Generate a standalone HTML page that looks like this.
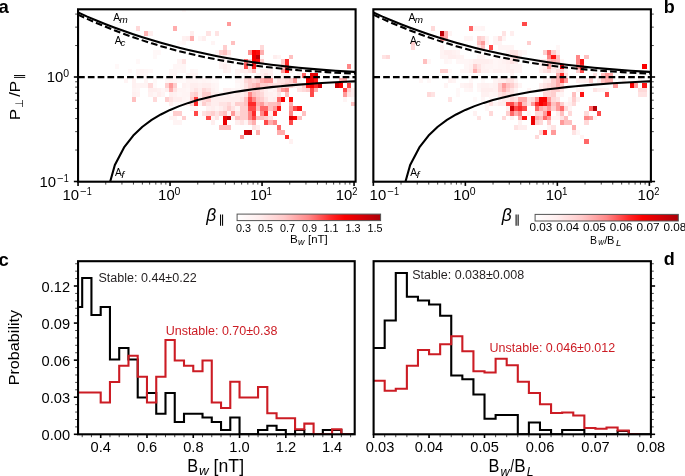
<!DOCTYPE html>
<html><head><meta charset="utf-8"><style>
html,body{margin:0;padding:0;background:#fff;}
svg{display:block;font-family:"Liberation Sans", sans-serif;-webkit-font-smoothing:antialiased;will-change:transform;}
</style></head><body>
<svg width="685" height="476" viewBox="0 0 685 476">
<rect width="685" height="476" fill="#fff"/>
<g shape-rendering="crispEdges">
<rect x="136.01" y="26.40" width="4.14" height="4.70" fill="#ffd9d9"/>
<rect x="144.29" y="31.10" width="4.14" height="4.70" fill="#ffb5b5"/>
<rect x="148.43" y="31.10" width="4.14" height="4.70" fill="#ffeeee"/>
<rect x="152.57" y="54.60" width="4.14" height="4.70" fill="#fff8f8"/>
<rect x="156.71" y="49.90" width="4.14" height="4.70" fill="#fff8f8"/>
<rect x="152.57" y="49.90" width="4.14" height="4.70" fill="#fff8f8"/>
<rect x="115.31" y="64.00" width="4.14" height="4.70" fill="#fff8f8"/>
<rect x="136.01" y="73.40" width="4.14" height="4.70" fill="#fff6f6"/>
<rect x="140.15" y="73.40" width="4.14" height="4.70" fill="#fff6f6"/>
<rect x="144.29" y="73.40" width="4.14" height="4.70" fill="#fff8f8"/>
<rect x="148.43" y="68.70" width="4.14" height="4.70" fill="#fff8f8"/>
<rect x="169.13" y="73.40" width="4.14" height="4.70" fill="#fff6f6"/>
<rect x="169.13" y="68.70" width="4.14" height="4.70" fill="#fff6f6"/>
<rect x="173.27" y="26.40" width="4.14" height="4.70" fill="#ffadad"/>
<rect x="181.55" y="9.30" width="4.14" height="3.00" fill="#fff8f8"/>
<rect x="189.83" y="31.10" width="4.14" height="4.70" fill="#ffeeee"/>
<rect x="189.83" y="35.80" width="4.14" height="4.70" fill="#ffadad"/>
<rect x="185.69" y="35.80" width="4.14" height="4.70" fill="#ffeeee"/>
<rect x="181.55" y="35.80" width="4.14" height="4.70" fill="#fff1f1"/>
<rect x="206.39" y="31.10" width="4.14" height="4.70" fill="#ffe3e3"/>
<rect x="214.67" y="31.10" width="4.14" height="4.70" fill="#ffe3e3"/>
<rect x="202.25" y="35.80" width="4.14" height="4.70" fill="#ffeeee"/>
<rect x="198.11" y="35.80" width="4.14" height="4.70" fill="#fff6f6"/>
<rect x="227.09" y="21.70" width="4.14" height="4.70" fill="#ff9a9a"/>
<rect x="231.23" y="40.50" width="4.14" height="4.70" fill="#ffc0c0"/>
<rect x="210.53" y="40.50" width="4.14" height="4.70" fill="#fff4f4"/>
<rect x="222.95" y="45.20" width="4.14" height="4.70" fill="#ffcece"/>
<rect x="218.81" y="49.90" width="4.14" height="4.70" fill="#ffcece"/>
<rect x="222.95" y="49.90" width="4.14" height="4.70" fill="#ffc0c0"/>
<rect x="227.09" y="49.90" width="4.14" height="4.70" fill="#ffe3e3"/>
<rect x="222.95" y="54.60" width="4.14" height="4.70" fill="#ffeeee"/>
<rect x="260.21" y="45.20" width="4.14" height="4.70" fill="#ffd9d9"/>
<rect x="247.79" y="49.90" width="4.14" height="4.70" fill="#ff8f8f"/>
<rect x="251.93" y="49.90" width="4.14" height="4.70" fill="#fa0000"/>
<rect x="256.07" y="49.90" width="4.14" height="4.70" fill="#fc0c0c"/>
<rect x="260.21" y="49.90" width="4.14" height="4.70" fill="#ffadad"/>
<rect x="251.93" y="54.60" width="4.14" height="4.70" fill="#f10001"/>
<rect x="256.07" y="54.60" width="4.14" height="4.70" fill="#bd0007"/>
<rect x="260.21" y="54.60" width="4.14" height="4.70" fill="#fff9f9"/>
<rect x="251.93" y="59.30" width="4.14" height="4.70" fill="#fa0000"/>
<rect x="256.07" y="59.30" width="4.14" height="4.70" fill="#fc0c0c"/>
<rect x="243.65" y="59.30" width="4.14" height="4.70" fill="#ff6868"/>
<rect x="243.65" y="64.00" width="4.14" height="4.70" fill="#ff4949"/>
<rect x="251.93" y="64.00" width="4.14" height="4.70" fill="#fd1313"/>
<rect x="247.79" y="64.00" width="4.14" height="4.70" fill="#ffe3e3"/>
<rect x="247.79" y="59.30" width="4.14" height="4.70" fill="#ffd9d9"/>
<rect x="251.93" y="68.70" width="4.14" height="4.70" fill="#ffc0c0"/>
<rect x="177.41" y="64.00" width="4.14" height="4.70" fill="#fff6f6"/>
<rect x="181.55" y="64.00" width="4.14" height="4.70" fill="#fff6f6"/>
<rect x="177.41" y="59.30" width="4.14" height="4.70" fill="#fff4f4"/>
<rect x="181.55" y="59.30" width="4.14" height="4.70" fill="#ffe3e3"/>
<rect x="173.27" y="73.40" width="4.14" height="4.70" fill="#fff4f4"/>
<rect x="173.27" y="68.70" width="4.14" height="4.70" fill="#fff6f6"/>
<rect x="272.63" y="54.60" width="4.14" height="4.70" fill="#ffeeee"/>
<rect x="276.77" y="54.60" width="4.14" height="4.70" fill="#fff4f4"/>
<rect x="289.19" y="54.60" width="4.14" height="4.70" fill="#ffc0c0"/>
<rect x="280.91" y="59.30" width="4.14" height="4.70" fill="#ffcece"/>
<rect x="285.05" y="59.30" width="4.14" height="4.70" fill="#ff2929"/>
<rect x="285.05" y="64.00" width="4.14" height="4.70" fill="#ff2929"/>
<rect x="280.91" y="64.00" width="4.14" height="4.70" fill="#ffcece"/>
<rect x="280.91" y="68.70" width="4.14" height="4.70" fill="#ff9a9a"/>
<rect x="285.05" y="68.70" width="4.14" height="4.70" fill="#fa0000"/>
<rect x="347.15" y="64.00" width="4.14" height="4.70" fill="#ff8787"/>
<rect x="301.61" y="73.40" width="4.14" height="4.70" fill="#ff6868"/>
<rect x="309.89" y="73.40" width="4.14" height="4.70" fill="#e60003"/>
<rect x="314.03" y="73.40" width="4.14" height="4.70" fill="#e60003"/>
<rect x="264.35" y="73.40" width="4.14" height="4.70" fill="#ffe3e3"/>
<rect x="268.49" y="73.40" width="4.14" height="4.70" fill="#ffeeee"/>
<rect x="264.35" y="68.70" width="4.14" height="4.70" fill="#ffeeee"/>
<rect x="268.49" y="68.70" width="4.14" height="4.70" fill="#fff1f1"/>
<rect x="123.59" y="78.10" width="4.14" height="4.70" fill="#fff4f4"/>
<rect x="131.87" y="78.10" width="4.14" height="4.70" fill="#fff1f1"/>
<rect x="131.87" y="82.80" width="4.14" height="4.70" fill="#fff1f1"/>
<rect x="131.87" y="87.50" width="4.14" height="4.70" fill="#fff4f4"/>
<rect x="131.87" y="92.20" width="4.14" height="4.70" fill="#fff1f1"/>
<rect x="131.87" y="96.90" width="4.14" height="4.70" fill="#ffc0c0"/>
<rect x="136.01" y="82.80" width="4.14" height="4.70" fill="#fff4f4"/>
<rect x="136.01" y="87.50" width="4.14" height="4.70" fill="#fff6f6"/>
<rect x="140.15" y="82.80" width="4.14" height="4.70" fill="#fff4f4"/>
<rect x="144.29" y="78.10" width="4.14" height="4.70" fill="#fff4f4"/>
<rect x="144.29" y="82.80" width="4.14" height="4.70" fill="#fff4f4"/>
<rect x="148.43" y="82.80" width="4.14" height="4.70" fill="#ffd9d9"/>
<rect x="148.43" y="87.50" width="4.14" height="4.70" fill="#ffeeee"/>
<rect x="148.43" y="92.20" width="4.14" height="4.70" fill="#fff1f1"/>
<rect x="152.57" y="87.50" width="4.14" height="4.70" fill="#ffeeee"/>
<rect x="152.57" y="96.90" width="4.14" height="4.70" fill="#ffd9d9"/>
<rect x="152.57" y="92.20" width="4.14" height="4.70" fill="#fff6f6"/>
<rect x="156.71" y="87.50" width="4.14" height="4.70" fill="#fff1f1"/>
<rect x="156.71" y="92.20" width="4.14" height="4.70" fill="#ffeeee"/>
<rect x="160.85" y="87.50" width="4.14" height="4.70" fill="#fff6f6"/>
<rect x="164.99" y="82.80" width="4.14" height="4.70" fill="#ffcece"/>
<rect x="164.99" y="87.50" width="4.14" height="4.70" fill="#ffeeee"/>
<rect x="164.99" y="96.90" width="4.14" height="4.70" fill="#ffcece"/>
<rect x="169.13" y="82.80" width="4.14" height="4.70" fill="#ff9a9a"/>
<rect x="169.13" y="87.50" width="4.14" height="4.70" fill="#ffadad"/>
<rect x="169.13" y="78.10" width="4.14" height="4.70" fill="#fff4f4"/>
<rect x="169.13" y="92.20" width="4.14" height="4.70" fill="#ffeeee"/>
<rect x="169.13" y="96.90" width="4.14" height="4.70" fill="#ffe3e3"/>
<rect x="169.13" y="101.60" width="4.14" height="4.70" fill="#ffeeee"/>
<rect x="173.27" y="115.70" width="4.14" height="4.70" fill="#fff4f4"/>
<rect x="181.55" y="115.70" width="4.14" height="4.70" fill="#ffcece"/>
<rect x="206.39" y="115.70" width="4.14" height="4.70" fill="#ff4949"/>
<rect x="214.67" y="115.70" width="4.14" height="4.70" fill="#ffe3e3"/>
<rect x="222.95" y="115.70" width="4.14" height="4.70" fill="#eb0002"/>
<rect x="227.09" y="115.70" width="4.14" height="4.70" fill="#bd0007"/>
<rect x="235.37" y="115.70" width="4.14" height="4.70" fill="#ffc0c0"/>
<rect x="239.51" y="115.70" width="4.14" height="4.70" fill="#ffcece"/>
<rect x="243.65" y="115.70" width="4.14" height="4.70" fill="#ffcece"/>
<rect x="247.79" y="115.70" width="4.14" height="4.70" fill="#ff8787"/>
<rect x="251.93" y="115.70" width="4.14" height="4.70" fill="#ff4949"/>
<rect x="256.07" y="115.70" width="4.14" height="4.70" fill="#ffc0c0"/>
<rect x="260.21" y="115.70" width="4.14" height="4.70" fill="#ffc0c0"/>
<rect x="264.35" y="115.70" width="4.14" height="4.70" fill="#ffcece"/>
<rect x="173.27" y="120.40" width="4.14" height="4.70" fill="#fff4f4"/>
<rect x="177.41" y="120.40" width="4.14" height="4.70" fill="#fff4f4"/>
<rect x="210.53" y="120.40" width="4.14" height="4.70" fill="#ffeeee"/>
<rect x="222.95" y="120.40" width="4.14" height="4.70" fill="#eb0002"/>
<rect x="235.37" y="120.40" width="4.14" height="4.70" fill="#ffeeee"/>
<rect x="239.51" y="120.40" width="4.14" height="4.70" fill="#ffe3e3"/>
<rect x="243.65" y="120.40" width="4.14" height="4.70" fill="#fff4f4"/>
<rect x="251.93" y="120.40" width="4.14" height="4.70" fill="#ffadad"/>
<rect x="264.35" y="120.40" width="4.14" height="4.70" fill="#ff4949"/>
<rect x="218.81" y="125.10" width="4.14" height="4.70" fill="#ffc0c0"/>
<rect x="222.95" y="125.10" width="4.14" height="4.70" fill="#ffc0c0"/>
<rect x="227.09" y="125.10" width="4.14" height="4.70" fill="#ffc0c0"/>
<rect x="251.93" y="125.10" width="4.14" height="4.70" fill="#ffe3e3"/>
<rect x="256.07" y="125.10" width="4.14" height="4.70" fill="#ffeeee"/>
<rect x="243.65" y="129.80" width="4.14" height="4.70" fill="#d40006"/>
<rect x="247.79" y="129.80" width="4.14" height="4.70" fill="#c70007"/>
<rect x="256.07" y="129.80" width="4.14" height="4.70" fill="#ffadad"/>
<rect x="239.51" y="134.50" width="4.14" height="4.70" fill="#ff9a9a"/>
<rect x="276.77" y="96.90" width="4.14" height="4.70" fill="#ff6868"/>
<rect x="280.91" y="96.90" width="4.14" height="4.70" fill="#fa0000"/>
<rect x="289.19" y="96.90" width="4.14" height="4.70" fill="#fc0c0c"/>
<rect x="272.63" y="96.90" width="4.14" height="4.70" fill="#ffeeee"/>
<rect x="268.49" y="96.90" width="4.14" height="4.70" fill="#fff1f1"/>
<rect x="276.77" y="92.20" width="4.14" height="4.70" fill="#ffe3e3"/>
<rect x="285.05" y="92.20" width="4.14" height="4.70" fill="#ffc0c0"/>
<rect x="309.89" y="92.20" width="4.14" height="4.70" fill="#ff4949"/>
<rect x="268.49" y="101.60" width="4.14" height="4.70" fill="#ffc0c0"/>
<rect x="272.63" y="101.60" width="4.14" height="4.70" fill="#ffc0c0"/>
<rect x="276.77" y="101.60" width="4.14" height="4.70" fill="#ffadad"/>
<rect x="289.19" y="101.60" width="4.14" height="4.70" fill="#ffadad"/>
<rect x="264.35" y="106.30" width="4.14" height="4.70" fill="#ff6868"/>
<rect x="268.49" y="106.30" width="4.14" height="4.70" fill="#ffc0c0"/>
<rect x="272.63" y="106.30" width="4.14" height="4.70" fill="#ff9a9a"/>
<rect x="276.77" y="106.30" width="4.14" height="4.70" fill="#fd1313"/>
<rect x="289.19" y="106.30" width="4.14" height="4.70" fill="#ff9a9a"/>
<rect x="293.33" y="106.30" width="4.14" height="4.70" fill="#ff4949"/>
<rect x="297.47" y="106.30" width="4.14" height="4.70" fill="#fd1313"/>
<rect x="268.49" y="111.00" width="4.14" height="4.70" fill="#ffeeee"/>
<rect x="272.63" y="111.00" width="4.14" height="4.70" fill="#ff2929"/>
<rect x="289.19" y="111.00" width="4.14" height="4.70" fill="#ff8787"/>
<rect x="301.61" y="111.00" width="4.14" height="4.70" fill="#ffc0c0"/>
<rect x="268.49" y="115.70" width="4.14" height="4.70" fill="#ffe3e3"/>
<rect x="289.19" y="115.70" width="4.14" height="4.70" fill="#dd0005"/>
<rect x="293.33" y="115.70" width="4.14" height="4.70" fill="#fa0000"/>
<rect x="297.47" y="115.70" width="4.14" height="4.70" fill="#ffc0c0"/>
<rect x="268.49" y="120.40" width="4.14" height="4.70" fill="#ffadad"/>
<rect x="272.63" y="120.40" width="4.14" height="4.70" fill="#ff8787"/>
<rect x="289.19" y="120.40" width="4.14" height="4.70" fill="#ff4949"/>
<rect x="276.77" y="125.10" width="4.14" height="4.70" fill="#ff6868"/>
<rect x="276.77" y="129.80" width="4.14" height="4.70" fill="#ffadad"/>
<rect x="280.91" y="129.80" width="4.14" height="4.70" fill="#ffadad"/>
<rect x="285.05" y="134.50" width="4.14" height="4.70" fill="#ff2929"/>
<rect x="289.19" y="139.20" width="4.14" height="4.70" fill="#fff1f1"/>
<rect x="235.37" y="78.10" width="4.14" height="4.70" fill="#fff6f6"/>
<rect x="239.51" y="78.10" width="4.14" height="4.70" fill="#fff4f4"/>
<rect x="243.65" y="78.10" width="4.14" height="4.70" fill="#ffd9d9"/>
<rect x="247.79" y="78.10" width="4.14" height="4.70" fill="#ffcece"/>
<rect x="251.93" y="78.10" width="4.14" height="4.70" fill="#ffd9d9"/>
<rect x="256.07" y="78.10" width="4.14" height="4.70" fill="#ffcece"/>
<rect x="260.21" y="78.10" width="4.14" height="4.70" fill="#ffadad"/>
<rect x="264.35" y="78.10" width="4.14" height="4.70" fill="#ff9a9a"/>
<rect x="268.49" y="78.10" width="4.14" height="4.70" fill="#ff9a9a"/>
<rect x="272.63" y="78.10" width="4.14" height="4.70" fill="#fff4f4"/>
<rect x="276.77" y="78.10" width="4.14" height="4.70" fill="#ffe3e3"/>
<rect x="280.91" y="78.10" width="4.14" height="4.70" fill="#ffe3e3"/>
<rect x="285.05" y="78.10" width="4.14" height="4.70" fill="#ffd9d9"/>
<rect x="289.19" y="78.10" width="4.14" height="4.70" fill="#ffcece"/>
<rect x="293.33" y="78.10" width="4.14" height="4.70" fill="#ff9a9a"/>
<rect x="297.47" y="78.10" width="4.14" height="4.70" fill="#fff9f9"/>
<rect x="235.37" y="82.80" width="4.14" height="4.70" fill="#fff9f9"/>
<rect x="239.51" y="82.80" width="4.14" height="4.70" fill="#fff4f4"/>
<rect x="243.65" y="82.80" width="4.14" height="4.70" fill="#ffe3e3"/>
<rect x="247.79" y="82.80" width="4.14" height="4.70" fill="#ffcece"/>
<rect x="251.93" y="82.80" width="4.14" height="4.70" fill="#ffc0c0"/>
<rect x="256.07" y="82.80" width="4.14" height="4.70" fill="#ffadad"/>
<rect x="260.21" y="82.80" width="4.14" height="4.70" fill="#ffcece"/>
<rect x="264.35" y="82.80" width="4.14" height="4.70" fill="#ffcece"/>
<rect x="268.49" y="82.80" width="4.14" height="4.70" fill="#ffd9d9"/>
<rect x="272.63" y="82.80" width="4.14" height="4.70" fill="#ffe3e3"/>
<rect x="276.77" y="82.80" width="4.14" height="4.70" fill="#ffe3e3"/>
<rect x="280.91" y="82.80" width="4.14" height="4.70" fill="#ffd9d9"/>
<rect x="285.05" y="82.80" width="4.14" height="4.70" fill="#ffcece"/>
<rect x="289.19" y="82.80" width="4.14" height="4.70" fill="#ffd9d9"/>
<rect x="293.33" y="82.80" width="4.14" height="4.70" fill="#ffeeee"/>
<rect x="297.47" y="82.80" width="4.14" height="4.70" fill="#ffeeee"/>
<rect x="301.61" y="82.80" width="4.14" height="4.70" fill="#ffcece"/>
<rect x="235.37" y="87.50" width="4.14" height="4.70" fill="#fff6f6"/>
<rect x="239.51" y="87.50" width="4.14" height="4.70" fill="#fff4f4"/>
<rect x="243.65" y="87.50" width="4.14" height="4.70" fill="#ffe3e3"/>
<rect x="247.79" y="87.50" width="4.14" height="4.70" fill="#ffd9d9"/>
<rect x="251.93" y="87.50" width="4.14" height="4.70" fill="#ffcece"/>
<rect x="256.07" y="87.50" width="4.14" height="4.70" fill="#ffcece"/>
<rect x="260.21" y="87.50" width="4.14" height="4.70" fill="#ffe3e3"/>
<rect x="264.35" y="87.50" width="4.14" height="4.70" fill="#ffeeee"/>
<rect x="268.49" y="87.50" width="4.14" height="4.70" fill="#fff6f6"/>
<rect x="272.63" y="87.50" width="4.14" height="4.70" fill="#fff1f1"/>
<rect x="276.77" y="87.50" width="4.14" height="4.70" fill="#ffcece"/>
<rect x="280.91" y="87.50" width="4.14" height="4.70" fill="#ff9a9a"/>
<rect x="285.05" y="87.50" width="4.14" height="4.70" fill="#ff8787"/>
<rect x="297.47" y="87.50" width="4.14" height="4.70" fill="#ffe3e3"/>
<rect x="301.61" y="87.50" width="4.14" height="4.70" fill="#ffd9d9"/>
<rect x="235.37" y="92.20" width="4.14" height="4.70" fill="#ffeeee"/>
<rect x="239.51" y="92.20" width="4.14" height="4.70" fill="#ffeeee"/>
<rect x="243.65" y="92.20" width="4.14" height="4.70" fill="#ffe3e3"/>
<rect x="247.79" y="92.20" width="4.14" height="4.70" fill="#ff8787"/>
<rect x="251.93" y="92.20" width="4.14" height="4.70" fill="#ffc0c0"/>
<rect x="256.07" y="92.20" width="4.14" height="4.70" fill="#ffcece"/>
<rect x="260.21" y="92.20" width="4.14" height="4.70" fill="#ffd9d9"/>
<rect x="264.35" y="92.20" width="4.14" height="4.70" fill="#ffeeee"/>
<rect x="268.49" y="92.20" width="4.14" height="4.70" fill="#fff1f1"/>
<rect x="272.63" y="92.20" width="4.14" height="4.70" fill="#fff4f4"/>
<rect x="235.37" y="96.90" width="4.14" height="4.70" fill="#ffeeee"/>
<rect x="239.51" y="96.90" width="4.14" height="4.70" fill="#ffe3e3"/>
<rect x="243.65" y="96.90" width="4.14" height="4.70" fill="#ffc0c0"/>
<rect x="247.79" y="96.90" width="4.14" height="4.70" fill="#ff4949"/>
<rect x="251.93" y="96.90" width="4.14" height="4.70" fill="#ff8787"/>
<rect x="256.07" y="96.90" width="4.14" height="4.70" fill="#ffc0c0"/>
<rect x="260.21" y="96.90" width="4.14" height="4.70" fill="#ffcece"/>
<rect x="264.35" y="96.90" width="4.14" height="4.70" fill="#ffe3e3"/>
<rect x="235.37" y="101.60" width="4.14" height="4.70" fill="#ffcece"/>
<rect x="239.51" y="101.60" width="4.14" height="4.70" fill="#ffcece"/>
<rect x="243.65" y="101.60" width="4.14" height="4.70" fill="#ffc0c0"/>
<rect x="247.79" y="101.60" width="4.14" height="4.70" fill="#ff2929"/>
<rect x="251.93" y="101.60" width="4.14" height="4.70" fill="#ff2929"/>
<rect x="256.07" y="101.60" width="4.14" height="4.70" fill="#ffadad"/>
<rect x="260.21" y="101.60" width="4.14" height="4.70" fill="#ff9a9a"/>
<rect x="264.35" y="101.60" width="4.14" height="4.70" fill="#ffcece"/>
<rect x="235.37" y="106.30" width="4.14" height="4.70" fill="#fff4f4"/>
<rect x="239.51" y="106.30" width="4.14" height="4.70" fill="#ffcece"/>
<rect x="243.65" y="106.30" width="4.14" height="4.70" fill="#ffcece"/>
<rect x="247.79" y="106.30" width="4.14" height="4.70" fill="#ff4949"/>
<rect x="251.93" y="106.30" width="4.14" height="4.70" fill="#ff4949"/>
<rect x="256.07" y="106.30" width="4.14" height="4.70" fill="#ffc0c0"/>
<rect x="260.21" y="106.30" width="4.14" height="4.70" fill="#ff6868"/>
<rect x="235.37" y="111.00" width="4.14" height="4.70" fill="#ffe3e3"/>
<rect x="239.51" y="111.00" width="4.14" height="4.70" fill="#ffcece"/>
<rect x="243.65" y="111.00" width="4.14" height="4.70" fill="#ffcece"/>
<rect x="247.79" y="111.00" width="4.14" height="4.70" fill="#ff8787"/>
<rect x="251.93" y="111.00" width="4.14" height="4.70" fill="#ff2929"/>
<rect x="256.07" y="111.00" width="4.14" height="4.70" fill="#fff4f4"/>
<rect x="260.21" y="111.00" width="4.14" height="4.70" fill="#ff8787"/>
<rect x="264.35" y="111.00" width="4.14" height="4.70" fill="#ff2929"/>
<rect x="247.79" y="120.40" width="4.14" height="4.70" fill="#ffcece"/>
<rect x="173.27" y="78.10" width="4.14" height="4.70" fill="#fff6f6"/>
<rect x="177.41" y="78.10" width="4.14" height="4.70" fill="#fff9f9"/>
<rect x="181.55" y="78.10" width="4.14" height="4.70" fill="#fff9f9"/>
<rect x="185.69" y="78.10" width="4.14" height="4.70" fill="#fff4f4"/>
<rect x="189.83" y="78.10" width="4.14" height="4.70" fill="#fff4f4"/>
<rect x="193.97" y="78.10" width="4.14" height="4.70" fill="#fff4f4"/>
<rect x="198.11" y="78.10" width="4.14" height="4.70" fill="#fff6f6"/>
<rect x="202.25" y="78.10" width="4.14" height="4.70" fill="#fff4f4"/>
<rect x="206.39" y="78.10" width="4.14" height="4.70" fill="#fff6f6"/>
<rect x="210.53" y="78.10" width="4.14" height="4.70" fill="#fff9f9"/>
<rect x="214.67" y="78.10" width="4.14" height="4.70" fill="#fff9f9"/>
<rect x="173.27" y="82.80" width="4.14" height="4.70" fill="#ffcece"/>
<rect x="181.55" y="82.80" width="4.14" height="4.70" fill="#fff1f1"/>
<rect x="185.69" y="82.80" width="4.14" height="4.70" fill="#fff4f4"/>
<rect x="189.83" y="82.80" width="4.14" height="4.70" fill="#ffeeee"/>
<rect x="193.97" y="82.80" width="4.14" height="4.70" fill="#ffeeee"/>
<rect x="198.11" y="82.80" width="4.14" height="4.70" fill="#fff1f1"/>
<rect x="202.25" y="82.80" width="4.14" height="4.70" fill="#ffeeee"/>
<rect x="206.39" y="82.80" width="4.14" height="4.70" fill="#ffeeee"/>
<rect x="210.53" y="82.80" width="4.14" height="4.70" fill="#fff4f4"/>
<rect x="214.67" y="82.80" width="4.14" height="4.70" fill="#fff6f6"/>
<rect x="173.27" y="87.50" width="4.14" height="4.70" fill="#ffe3e3"/>
<rect x="177.41" y="87.50" width="4.14" height="4.70" fill="#fff4f4"/>
<rect x="181.55" y="87.50" width="4.14" height="4.70" fill="#fff4f4"/>
<rect x="185.69" y="87.50" width="4.14" height="4.70" fill="#fff6f6"/>
<rect x="189.83" y="87.50" width="4.14" height="4.70" fill="#ffeeee"/>
<rect x="193.97" y="87.50" width="4.14" height="4.70" fill="#ffe3e3"/>
<rect x="198.11" y="87.50" width="4.14" height="4.70" fill="#ffeeee"/>
<rect x="202.25" y="87.50" width="4.14" height="4.70" fill="#ffd9d9"/>
<rect x="206.39" y="87.50" width="4.14" height="4.70" fill="#ffe3e3"/>
<rect x="210.53" y="87.50" width="4.14" height="4.70" fill="#fff1f1"/>
<rect x="214.67" y="87.50" width="4.14" height="4.70" fill="#fff6f6"/>
<rect x="222.95" y="87.50" width="4.14" height="4.70" fill="#fff1f1"/>
<rect x="227.09" y="87.50" width="4.14" height="4.70" fill="#fff1f1"/>
<rect x="231.23" y="87.50" width="4.14" height="4.70" fill="#fff6f6"/>
<rect x="173.27" y="92.20" width="4.14" height="4.70" fill="#fff1f1"/>
<rect x="177.41" y="92.20" width="4.14" height="4.70" fill="#fff6f6"/>
<rect x="181.55" y="92.20" width="4.14" height="4.70" fill="#fff4f4"/>
<rect x="185.69" y="92.20" width="4.14" height="4.70" fill="#fff4f4"/>
<rect x="189.83" y="92.20" width="4.14" height="4.70" fill="#ffd9d9"/>
<rect x="193.97" y="92.20" width="4.14" height="4.70" fill="#ffcece"/>
<rect x="198.11" y="92.20" width="4.14" height="4.70" fill="#ffeeee"/>
<rect x="202.25" y="92.20" width="4.14" height="4.70" fill="#ffcece"/>
<rect x="206.39" y="92.20" width="4.14" height="4.70" fill="#ffcece"/>
<rect x="210.53" y="92.20" width="4.14" height="4.70" fill="#ffeeee"/>
<rect x="214.67" y="92.20" width="4.14" height="4.70" fill="#fff1f1"/>
<rect x="218.81" y="92.20" width="4.14" height="4.70" fill="#fff4f4"/>
<rect x="222.95" y="92.20" width="4.14" height="4.70" fill="#fff4f4"/>
<rect x="227.09" y="92.20" width="4.14" height="4.70" fill="#ffeeee"/>
<rect x="231.23" y="92.20" width="4.14" height="4.70" fill="#fff4f4"/>
<rect x="173.27" y="96.90" width="4.14" height="4.70" fill="#ffeeee"/>
<rect x="177.41" y="96.90" width="4.14" height="4.70" fill="#ffeeee"/>
<rect x="181.55" y="96.90" width="4.14" height="4.70" fill="#fff4f4"/>
<rect x="185.69" y="96.90" width="4.14" height="4.70" fill="#fff6f6"/>
<rect x="189.83" y="96.90" width="4.14" height="4.70" fill="#ffcece"/>
<rect x="193.97" y="96.90" width="4.14" height="4.70" fill="#ff3c3c"/>
<rect x="198.11" y="96.90" width="4.14" height="4.70" fill="#ffeeee"/>
<rect x="202.25" y="96.90" width="4.14" height="4.70" fill="#ffd9d9"/>
<rect x="206.39" y="96.90" width="4.14" height="4.70" fill="#ffcece"/>
<rect x="210.53" y="96.90" width="4.14" height="4.70" fill="#ffeeee"/>
<rect x="214.67" y="96.90" width="4.14" height="4.70" fill="#ffeeee"/>
<rect x="218.81" y="96.90" width="4.14" height="4.70" fill="#ffeeee"/>
<rect x="222.95" y="96.90" width="4.14" height="4.70" fill="#ffeeee"/>
<rect x="227.09" y="96.90" width="4.14" height="4.70" fill="#ffeeee"/>
<rect x="231.23" y="96.90" width="4.14" height="4.70" fill="#ffeeee"/>
<rect x="173.27" y="101.60" width="4.14" height="4.70" fill="#fff9f9"/>
<rect x="177.41" y="101.60" width="4.14" height="4.70" fill="#fff9f9"/>
<rect x="181.55" y="101.60" width="4.14" height="4.70" fill="#fff6f6"/>
<rect x="185.69" y="101.60" width="4.14" height="4.70" fill="#fff4f4"/>
<rect x="189.83" y="101.60" width="4.14" height="4.70" fill="#ffd9d9"/>
<rect x="193.97" y="101.60" width="4.14" height="4.70" fill="#ff2929"/>
<rect x="198.11" y="101.60" width="4.14" height="4.70" fill="#fff4f4"/>
<rect x="202.25" y="101.60" width="4.14" height="4.70" fill="#ffcece"/>
<rect x="206.39" y="101.60" width="4.14" height="4.70" fill="#ffe3e3"/>
<rect x="210.53" y="101.60" width="4.14" height="4.70" fill="#ffeeee"/>
<rect x="214.67" y="101.60" width="4.14" height="4.70" fill="#ffeeee"/>
<rect x="218.81" y="101.60" width="4.14" height="4.70" fill="#ffe3e3"/>
<rect x="222.95" y="101.60" width="4.14" height="4.70" fill="#ffe3e3"/>
<rect x="227.09" y="101.60" width="4.14" height="4.70" fill="#ffd9d9"/>
<rect x="231.23" y="101.60" width="4.14" height="4.70" fill="#ffeeee"/>
<rect x="189.83" y="106.30" width="4.14" height="4.70" fill="#fff4f4"/>
<rect x="193.97" y="106.30" width="4.14" height="4.70" fill="#fff4f4"/>
<rect x="206.39" y="106.30" width="4.14" height="4.70" fill="#fff1f1"/>
<rect x="210.53" y="106.30" width="4.14" height="4.70" fill="#ffeeee"/>
<rect x="214.67" y="106.30" width="4.14" height="4.70" fill="#fff4f4"/>
<rect x="218.81" y="106.30" width="4.14" height="4.70" fill="#ffeeee"/>
<rect x="222.95" y="106.30" width="4.14" height="4.70" fill="#ffe3e3"/>
<rect x="227.09" y="106.30" width="4.14" height="4.70" fill="#ffcece"/>
<rect x="231.23" y="106.30" width="4.14" height="4.70" fill="#ffe3e3"/>
<rect x="173.27" y="111.00" width="4.14" height="4.70" fill="#ffcece"/>
<rect x="193.97" y="111.00" width="4.14" height="4.70" fill="#ff4949"/>
<rect x="202.25" y="111.00" width="4.14" height="4.70" fill="#ffe3e3"/>
<rect x="206.39" y="111.00" width="4.14" height="4.70" fill="#ffd9d9"/>
<rect x="210.53" y="111.00" width="4.14" height="4.70" fill="#ffcece"/>
<rect x="214.67" y="111.00" width="4.14" height="4.70" fill="#ffe3e3"/>
<rect x="218.81" y="111.00" width="4.14" height="4.70" fill="#ffcece"/>
<rect x="222.95" y="111.00" width="4.14" height="4.70" fill="#ffc0c0"/>
<rect x="227.09" y="111.00" width="4.14" height="4.70" fill="#fff4f4"/>
<rect x="231.23" y="111.00" width="4.14" height="4.70" fill="#ff9a9a"/>
<rect x="169.13" y="115.70" width="4.14" height="4.70" fill="#fff4f4"/>
<rect x="210.53" y="115.70" width="4.14" height="4.70" fill="#fff4f4"/>
<rect x="231.23" y="115.70" width="4.14" height="4.70" fill="#fff4f4"/>
<rect x="305.75" y="78.10" width="4.14" height="4.70" fill="#fa0000"/>
<rect x="309.89" y="78.10" width="4.14" height="4.70" fill="#eb0002"/>
<rect x="314.03" y="78.10" width="4.14" height="4.70" fill="#fd1313"/>
<rect x="338.87" y="78.10" width="4.14" height="4.70" fill="#ffadad"/>
<rect x="343.01" y="78.10" width="4.14" height="4.70" fill="#ffadad"/>
<rect x="305.75" y="82.80" width="4.14" height="4.70" fill="#fd1313"/>
<rect x="309.89" y="82.80" width="4.14" height="4.70" fill="#fa0000"/>
<rect x="314.03" y="82.80" width="4.14" height="4.70" fill="#ff2929"/>
<rect x="318.17" y="82.80" width="4.14" height="4.70" fill="#cd0006"/>
<rect x="334.73" y="82.80" width="4.14" height="4.70" fill="#cd0006"/>
<rect x="338.87" y="82.80" width="4.14" height="4.70" fill="#fa0000"/>
<rect x="347.15" y="82.80" width="4.14" height="4.70" fill="#ff4949"/>
<rect x="260.21" y="59.30" width="4.14" height="4.70" fill="#ffcece"/>
<rect x="239.51" y="64.00" width="4.14" height="4.70" fill="#fff4f4"/>
<rect x="256.07" y="64.00" width="4.14" height="4.70" fill="#ffeeee"/>
<rect x="235.37" y="68.70" width="4.14" height="4.70" fill="#fff4f4"/>
<rect x="239.51" y="68.70" width="4.14" height="4.70" fill="#ffeeee"/>
<rect x="243.65" y="68.70" width="4.14" height="4.70" fill="#ffeeee"/>
<rect x="247.79" y="68.70" width="4.14" height="4.70" fill="#ffe3e3"/>
<rect x="260.21" y="68.70" width="4.14" height="4.70" fill="#ffeeee"/>
<rect x="289.19" y="68.70" width="4.14" height="4.70" fill="#fff4f4"/>
<rect x="235.37" y="73.40" width="4.14" height="4.70" fill="#fff6f6"/>
<rect x="243.65" y="73.40" width="4.14" height="4.70" fill="#fff6f6"/>
<rect x="256.07" y="73.40" width="4.14" height="4.70" fill="#fff4f4"/>
<rect x="260.21" y="73.40" width="4.14" height="4.70" fill="#ffeeee"/>
<rect x="280.91" y="73.40" width="4.14" height="4.70" fill="#fff4f4"/>
<rect x="285.05" y="73.40" width="4.14" height="4.70" fill="#fff4f4"/>
<rect x="297.47" y="73.40" width="4.14" height="4.70" fill="#fff4f4"/>
<rect x="177.41" y="40.50" width="4.14" height="4.70" fill="#fff9f9"/>
<rect x="181.55" y="40.50" width="4.14" height="4.70" fill="#fff6f6"/>
<rect x="214.67" y="49.90" width="4.14" height="4.70" fill="#fff6f6"/>
<rect x="218.81" y="54.60" width="4.14" height="4.70" fill="#fff1f1"/>
<rect x="227.09" y="54.60" width="4.14" height="4.70" fill="#fff4f4"/>
<rect x="218.81" y="59.30" width="4.14" height="4.70" fill="#fff4f4"/>
<rect x="222.95" y="59.30" width="4.14" height="4.70" fill="#fff6f6"/>
<rect x="173.27" y="64.00" width="4.14" height="4.70" fill="#fff6f6"/>
<rect x="218.81" y="64.00" width="4.14" height="4.70" fill="#fff4f4"/>
<rect x="222.95" y="64.00" width="4.14" height="4.70" fill="#ffeeee"/>
<rect x="227.09" y="64.00" width="4.14" height="4.70" fill="#fff4f4"/>
<rect x="189.83" y="68.70" width="4.14" height="4.70" fill="#fff6f6"/>
<rect x="193.97" y="68.70" width="4.14" height="4.70" fill="#fff8f8"/>
<rect x="222.95" y="68.70" width="4.14" height="4.70" fill="#fff1f1"/>
<rect x="227.09" y="68.70" width="4.14" height="4.70" fill="#fff4f4"/>
<rect x="185.69" y="73.40" width="4.14" height="4.70" fill="#fff6f6"/>
<rect x="189.83" y="73.40" width="4.14" height="4.70" fill="#fff4f4"/>
<rect x="193.97" y="73.40" width="4.14" height="4.70" fill="#fff4f4"/>
<rect x="152.57" y="78.10" width="4.14" height="4.70" fill="#fff8f8"/>
<rect x="164.99" y="78.10" width="4.14" height="4.70" fill="#fff6f6"/>
<rect x="152.57" y="82.80" width="4.14" height="4.70" fill="#fff9f9"/>
<rect x="136.01" y="92.20" width="4.14" height="4.70" fill="#fff4f4"/>
<rect x="160.85" y="92.20" width="4.14" height="4.70" fill="#fff4f4"/>
<rect x="177.41" y="111.00" width="4.14" height="4.70" fill="#ffcece"/>
<rect x="305.75" y="87.50" width="4.14" height="4.70" fill="#ffcece"/>
<rect x="309.89" y="87.50" width="4.14" height="4.70" fill="#ff4949"/>
<rect x="314.03" y="87.50" width="4.14" height="4.70" fill="#ffadad"/>
<rect x="343.01" y="87.50" width="4.14" height="4.70" fill="#ff4949"/>
<rect x="347.15" y="87.50" width="4.14" height="4.70" fill="#ffcece"/>
<rect x="351.29" y="87.50" width="4.14" height="4.70" fill="#ffeeee"/>
<rect x="343.01" y="92.20" width="4.14" height="4.70" fill="#ff9a9a"/>
<rect x="347.15" y="92.20" width="4.14" height="4.70" fill="#ffe3e3"/>
<rect x="351.29" y="92.20" width="4.14" height="4.70" fill="#ffeeee"/>
<rect x="343.01" y="96.90" width="4.14" height="4.70" fill="#fff4f4"/>
<rect x="351.29" y="96.90" width="4.14" height="4.70" fill="#fff9f9"/>
<rect x="351.29" y="101.60" width="4.14" height="4.70" fill="#ffc0c0"/>
<rect x="136.01" y="59.30" width="4.14" height="4.70" fill="#fff8f8"/>
<rect x="127.73" y="68.70" width="4.14" height="4.70" fill="#fff8f8"/>
<rect x="136.01" y="68.70" width="4.14" height="4.70" fill="#fff6f6"/>
<rect x="140.15" y="68.70" width="4.14" height="4.70" fill="#fff4f4"/>
<rect x="144.29" y="68.70" width="4.14" height="4.70" fill="#fff6f6"/>
<rect x="177.41" y="68.70" width="4.14" height="4.70" fill="#fff8f8"/>
<rect x="181.55" y="68.70" width="4.14" height="4.70" fill="#fff6f6"/>
</g>
<g shape-rendering="crispEdges">
<rect x="431.31" y="26.40" width="4.14" height="4.70" fill="#ffd9d9"/>
<rect x="439.59" y="31.10" width="4.14" height="4.70" fill="#bd0007"/>
<rect x="439.59" y="35.80" width="4.14" height="4.70" fill="#ff8787"/>
<rect x="443.73" y="31.10" width="4.14" height="4.70" fill="#ffadad"/>
<rect x="443.73" y="35.80" width="4.14" height="4.70" fill="#ffadad"/>
<rect x="410.61" y="40.50" width="4.14" height="4.70" fill="#ffcece"/>
<rect x="410.61" y="45.20" width="4.14" height="4.70" fill="#ffd9d9"/>
<rect x="381.63" y="54.60" width="4.14" height="4.70" fill="#ffe3e3"/>
<rect x="385.77" y="54.60" width="4.14" height="4.70" fill="#ffd9d9"/>
<rect x="439.59" y="45.20" width="4.14" height="4.70" fill="#fff4f4"/>
<rect x="439.59" y="49.90" width="4.14" height="4.70" fill="#fff4f4"/>
<rect x="439.59" y="54.60" width="4.14" height="4.70" fill="#fff4f4"/>
<rect x="468.57" y="26.40" width="4.14" height="4.70" fill="#ff6868"/>
<rect x="472.71" y="26.40" width="4.14" height="4.70" fill="#fff6f6"/>
<rect x="476.85" y="26.40" width="4.14" height="4.70" fill="#fff6f6"/>
<rect x="480.99" y="26.40" width="4.14" height="4.70" fill="#fff4f4"/>
<rect x="447.87" y="31.10" width="4.14" height="4.70" fill="#fff4f4"/>
<rect x="501.69" y="31.10" width="4.14" height="4.70" fill="#ffe3e3"/>
<rect x="509.97" y="31.10" width="4.14" height="4.70" fill="#ffeeee"/>
<rect x="464.43" y="35.80" width="4.14" height="4.70" fill="#fff4f4"/>
<rect x="468.57" y="35.80" width="4.14" height="4.70" fill="#fff4f4"/>
<rect x="476.85" y="35.80" width="4.14" height="4.70" fill="#ffcece"/>
<rect x="480.99" y="35.80" width="4.14" height="4.70" fill="#ffd9d9"/>
<rect x="485.13" y="35.80" width="4.14" height="4.70" fill="#fff4f4"/>
<rect x="493.41" y="35.80" width="4.14" height="4.70" fill="#fff4f4"/>
<rect x="497.55" y="35.80" width="4.14" height="4.70" fill="#ffd9d9"/>
<rect x="501.69" y="35.80" width="4.14" height="4.70" fill="#fff4f4"/>
<rect x="476.85" y="40.50" width="4.14" height="4.70" fill="#ffc0c0"/>
<rect x="480.99" y="40.50" width="4.14" height="4.70" fill="#ff9a9a"/>
<rect x="485.13" y="40.50" width="4.14" height="4.70" fill="#fff4f4"/>
<rect x="493.41" y="40.50" width="4.14" height="4.70" fill="#fff4f4"/>
<rect x="497.55" y="40.50" width="4.14" height="4.70" fill="#fff4f4"/>
<rect x="476.85" y="45.20" width="4.14" height="4.70" fill="#ffe3e3"/>
<rect x="480.99" y="45.20" width="4.14" height="4.70" fill="#ffc0c0"/>
<rect x="489.27" y="45.20" width="4.14" height="4.70" fill="#ff4949"/>
<rect x="497.55" y="45.20" width="4.14" height="4.70" fill="#fff4f4"/>
<rect x="501.69" y="45.20" width="4.14" height="4.70" fill="#fff4f4"/>
<rect x="505.83" y="45.20" width="4.14" height="4.70" fill="#fff4f4"/>
<rect x="443.73" y="49.90" width="4.14" height="4.70" fill="#ffeeee"/>
<rect x="447.87" y="49.90" width="4.14" height="4.70" fill="#ffeeee"/>
<rect x="452.01" y="49.90" width="4.14" height="4.70" fill="#fff1f1"/>
<rect x="456.15" y="49.90" width="4.14" height="4.70" fill="#fff4f4"/>
<rect x="505.83" y="49.90" width="4.14" height="4.70" fill="#fff4f4"/>
<rect x="443.73" y="54.60" width="4.14" height="4.70" fill="#fff4f4"/>
<rect x="447.87" y="54.60" width="4.14" height="4.70" fill="#ffeeee"/>
<rect x="452.01" y="54.60" width="4.14" height="4.70" fill="#ffeeee"/>
<rect x="522.39" y="21.70" width="4.14" height="4.70" fill="#ff4949"/>
<rect x="526.53" y="40.50" width="4.14" height="4.70" fill="#ffcece"/>
<rect x="509.97" y="45.20" width="4.14" height="4.70" fill="#fff4f4"/>
<rect x="555.51" y="45.20" width="4.14" height="4.70" fill="#fff6f6"/>
<rect x="509.97" y="49.90" width="4.14" height="4.70" fill="#ffe3e3"/>
<rect x="514.11" y="49.90" width="4.14" height="4.70" fill="#ffe3e3"/>
<rect x="518.25" y="49.90" width="4.14" height="4.70" fill="#fff1f1"/>
<rect x="522.39" y="49.90" width="4.14" height="4.70" fill="#fff6f6"/>
<rect x="543.09" y="49.90" width="4.14" height="4.70" fill="#ffcece"/>
<rect x="547.23" y="49.90" width="4.14" height="4.70" fill="#ff6868"/>
<rect x="551.37" y="49.90" width="4.14" height="4.70" fill="#ffcece"/>
<rect x="555.51" y="49.90" width="4.14" height="4.70" fill="#ffeeee"/>
<rect x="509.97" y="54.60" width="4.14" height="4.70" fill="#ffe3e3"/>
<rect x="514.11" y="54.60" width="4.14" height="4.70" fill="#ffcece"/>
<rect x="518.25" y="54.60" width="4.14" height="4.70" fill="#ffeeee"/>
<rect x="547.23" y="54.60" width="4.14" height="4.70" fill="#ff8787"/>
<rect x="551.37" y="54.60" width="4.14" height="4.70" fill="#fd1313"/>
<rect x="584.49" y="54.60" width="4.14" height="4.70" fill="#ffc0c0"/>
<rect x="423.03" y="59.30" width="4.14" height="4.70" fill="#ffc0c0"/>
<rect x="427.17" y="59.30" width="4.14" height="4.70" fill="#fff6f6"/>
<rect x="443.73" y="59.30" width="4.14" height="4.70" fill="#fff6f6"/>
<rect x="439.59" y="68.70" width="4.14" height="4.70" fill="#ffcece"/>
<rect x="443.73" y="68.70" width="4.14" height="4.70" fill="#ffcece"/>
<rect x="418.89" y="78.10" width="4.14" height="4.70" fill="#fff6f6"/>
<rect x="427.17" y="78.10" width="4.14" height="4.70" fill="#fff8f8"/>
<rect x="443.73" y="82.80" width="4.14" height="4.70" fill="#fff4f4"/>
<rect x="427.17" y="92.20" width="4.14" height="4.70" fill="#ffd9d9"/>
<rect x="431.31" y="92.20" width="4.14" height="4.70" fill="#ffe3e3"/>
<rect x="456.15" y="54.60" width="4.14" height="4.70" fill="#fff1f1"/>
<rect x="460.29" y="54.60" width="4.14" height="4.70" fill="#fff4f4"/>
<rect x="476.85" y="54.60" width="4.14" height="4.70" fill="#fff6f6"/>
<rect x="480.99" y="54.60" width="4.14" height="4.70" fill="#fff6f6"/>
<rect x="493.41" y="54.60" width="4.14" height="4.70" fill="#fff9f9"/>
<rect x="447.87" y="59.30" width="4.14" height="4.70" fill="#fff9f9"/>
<rect x="456.15" y="59.30" width="4.14" height="4.70" fill="#fff6f6"/>
<rect x="460.29" y="59.30" width="4.14" height="4.70" fill="#fff6f6"/>
<rect x="464.43" y="59.30" width="4.14" height="4.70" fill="#fff6f6"/>
<rect x="468.57" y="59.30" width="4.14" height="4.70" fill="#fff4f4"/>
<rect x="472.71" y="59.30" width="4.14" height="4.70" fill="#ffeeee"/>
<rect x="476.85" y="59.30" width="4.14" height="4.70" fill="#ffeeee"/>
<rect x="480.99" y="59.30" width="4.14" height="4.70" fill="#ffeeee"/>
<rect x="485.13" y="59.30" width="4.14" height="4.70" fill="#ffeeee"/>
<rect x="489.27" y="59.30" width="4.14" height="4.70" fill="#fff1f1"/>
<rect x="493.41" y="59.30" width="4.14" height="4.70" fill="#fff6f6"/>
<rect x="497.55" y="59.30" width="4.14" height="4.70" fill="#fff4f4"/>
<rect x="501.69" y="59.30" width="4.14" height="4.70" fill="#fff1f1"/>
<rect x="505.83" y="59.30" width="4.14" height="4.70" fill="#ffeeee"/>
<rect x="509.97" y="59.30" width="4.14" height="4.70" fill="#ffe3e3"/>
<rect x="464.43" y="64.00" width="4.14" height="4.70" fill="#fff6f6"/>
<rect x="468.57" y="64.00" width="4.14" height="4.70" fill="#fff1f1"/>
<rect x="472.71" y="64.00" width="4.14" height="4.70" fill="#ffcece"/>
<rect x="476.85" y="64.00" width="4.14" height="4.70" fill="#ffe3e3"/>
<rect x="480.99" y="64.00" width="4.14" height="4.70" fill="#fff1f1"/>
<rect x="485.13" y="64.00" width="4.14" height="4.70" fill="#fff4f4"/>
<rect x="489.27" y="64.00" width="4.14" height="4.70" fill="#fff4f4"/>
<rect x="493.41" y="64.00" width="4.14" height="4.70" fill="#fff6f6"/>
<rect x="497.55" y="64.00" width="4.14" height="4.70" fill="#fff4f4"/>
<rect x="501.69" y="64.00" width="4.14" height="4.70" fill="#fff4f4"/>
<rect x="505.83" y="64.00" width="4.14" height="4.70" fill="#fff1f1"/>
<rect x="509.97" y="64.00" width="4.14" height="4.70" fill="#fff4f4"/>
<rect x="447.87" y="68.70" width="4.14" height="4.70" fill="#fff9f9"/>
<rect x="460.29" y="68.70" width="4.14" height="4.70" fill="#fff6f6"/>
<rect x="464.43" y="68.70" width="4.14" height="4.70" fill="#fff6f6"/>
<rect x="468.57" y="68.70" width="4.14" height="4.70" fill="#ffeeee"/>
<rect x="472.71" y="68.70" width="4.14" height="4.70" fill="#ffadad"/>
<rect x="476.85" y="68.70" width="4.14" height="4.70" fill="#ffd9d9"/>
<rect x="480.99" y="68.70" width="4.14" height="4.70" fill="#fff1f1"/>
<rect x="485.13" y="68.70" width="4.14" height="4.70" fill="#fff1f1"/>
<rect x="489.27" y="68.70" width="4.14" height="4.70" fill="#fff6f6"/>
<rect x="493.41" y="68.70" width="4.14" height="4.70" fill="#fff1f1"/>
<rect x="497.55" y="68.70" width="4.14" height="4.70" fill="#fff1f1"/>
<rect x="501.69" y="68.70" width="4.14" height="4.70" fill="#fff4f4"/>
<rect x="505.83" y="68.70" width="4.14" height="4.70" fill="#fff1f1"/>
<rect x="509.97" y="68.70" width="4.14" height="4.70" fill="#ffeeee"/>
<rect x="447.87" y="78.10" width="4.14" height="4.70" fill="#fff1f1"/>
<rect x="452.01" y="78.10" width="4.14" height="4.70" fill="#fff4f4"/>
<rect x="468.57" y="78.10" width="4.14" height="4.70" fill="#fff8f8"/>
<rect x="480.99" y="78.10" width="4.14" height="4.70" fill="#fff9f9"/>
<rect x="493.41" y="78.10" width="4.14" height="4.70" fill="#fff4f4"/>
<rect x="497.55" y="78.10" width="4.14" height="4.70" fill="#ffeeee"/>
<rect x="501.69" y="78.10" width="4.14" height="4.70" fill="#ffeeee"/>
<rect x="505.83" y="78.10" width="4.14" height="4.70" fill="#ffe3e3"/>
<rect x="509.97" y="78.10" width="4.14" height="4.70" fill="#ffe3e3"/>
<rect x="460.29" y="82.80" width="4.14" height="4.70" fill="#fff4f4"/>
<rect x="464.43" y="82.80" width="4.14" height="4.70" fill="#fff1f1"/>
<rect x="468.57" y="82.80" width="4.14" height="4.70" fill="#ffeeee"/>
<rect x="476.85" y="82.80" width="4.14" height="4.70" fill="#fff4f4"/>
<rect x="480.99" y="82.80" width="4.14" height="4.70" fill="#fff1f1"/>
<rect x="485.13" y="82.80" width="4.14" height="4.70" fill="#fff1f1"/>
<rect x="489.27" y="82.80" width="4.14" height="4.70" fill="#fff4f4"/>
<rect x="493.41" y="82.80" width="4.14" height="4.70" fill="#fff1f1"/>
<rect x="497.55" y="82.80" width="4.14" height="4.70" fill="#ffcece"/>
<rect x="501.69" y="82.80" width="4.14" height="4.70" fill="#ff9a9a"/>
<rect x="505.83" y="82.80" width="4.14" height="4.70" fill="#ffc0c0"/>
<rect x="509.97" y="82.80" width="4.14" height="4.70" fill="#ffcece"/>
<rect x="456.15" y="87.50" width="4.14" height="4.70" fill="#fff8f8"/>
<rect x="464.43" y="87.50" width="4.14" height="4.70" fill="#fff6f6"/>
<rect x="468.57" y="87.50" width="4.14" height="4.70" fill="#fff4f4"/>
<rect x="476.85" y="87.50" width="4.14" height="4.70" fill="#fff6f6"/>
<rect x="480.99" y="87.50" width="4.14" height="4.70" fill="#ffeeee"/>
<rect x="485.13" y="87.50" width="4.14" height="4.70" fill="#ffeeee"/>
<rect x="489.27" y="87.50" width="4.14" height="4.70" fill="#ffeeee"/>
<rect x="493.41" y="87.50" width="4.14" height="4.70" fill="#fff1f1"/>
<rect x="497.55" y="87.50" width="4.14" height="4.70" fill="#ffcece"/>
<rect x="501.69" y="87.50" width="4.14" height="4.70" fill="#ffadad"/>
<rect x="505.83" y="87.50" width="4.14" height="4.70" fill="#ffcece"/>
<rect x="509.97" y="87.50" width="4.14" height="4.70" fill="#ffe3e3"/>
<rect x="456.15" y="92.20" width="4.14" height="4.70" fill="#fff8f8"/>
<rect x="480.99" y="92.20" width="4.14" height="4.70" fill="#fff1f1"/>
<rect x="485.13" y="92.20" width="4.14" height="4.70" fill="#fff1f1"/>
<rect x="489.27" y="92.20" width="4.14" height="4.70" fill="#fff6f6"/>
<rect x="493.41" y="92.20" width="4.14" height="4.70" fill="#fff4f4"/>
<rect x="497.55" y="92.20" width="4.14" height="4.70" fill="#ffe3e3"/>
<rect x="501.69" y="92.20" width="4.14" height="4.70" fill="#ffd9d9"/>
<rect x="505.83" y="92.20" width="4.14" height="4.70" fill="#ffe3e3"/>
<rect x="509.97" y="92.20" width="4.14" height="4.70" fill="#ffe3e3"/>
<rect x="447.87" y="96.90" width="4.14" height="4.70" fill="#ffe3e3"/>
<rect x="480.99" y="96.90" width="4.14" height="4.70" fill="#fff6f6"/>
<rect x="489.27" y="96.90" width="4.14" height="4.70" fill="#fff6f6"/>
<rect x="497.55" y="96.90" width="4.14" height="4.70" fill="#fff4f4"/>
<rect x="501.69" y="96.90" width="4.14" height="4.70" fill="#ffeeee"/>
<rect x="505.83" y="96.90" width="4.14" height="4.70" fill="#ffeeee"/>
<rect x="509.97" y="96.90" width="4.14" height="4.70" fill="#ffd9d9"/>
<rect x="555.51" y="54.60" width="4.14" height="4.70" fill="#ffc0c0"/>
<rect x="576.21" y="54.60" width="4.14" height="4.70" fill="#ff8787"/>
<rect x="514.11" y="59.30" width="4.14" height="4.70" fill="#ffeeee"/>
<rect x="538.95" y="59.30" width="4.14" height="4.70" fill="#ffeeee"/>
<rect x="543.09" y="59.30" width="4.14" height="4.70" fill="#ffeeee"/>
<rect x="547.23" y="59.30" width="4.14" height="4.70" fill="#ffc0c0"/>
<rect x="551.37" y="59.30" width="4.14" height="4.70" fill="#ffadad"/>
<rect x="555.51" y="59.30" width="4.14" height="4.70" fill="#ffc0c0"/>
<rect x="559.65" y="59.30" width="4.14" height="4.70" fill="#fff4f4"/>
<rect x="576.21" y="59.30" width="4.14" height="4.70" fill="#ff8787"/>
<rect x="514.11" y="64.00" width="4.14" height="4.70" fill="#fff4f4"/>
<rect x="518.25" y="64.00" width="4.14" height="4.70" fill="#fff4f4"/>
<rect x="538.95" y="64.00" width="4.14" height="4.70" fill="#fff4f4"/>
<rect x="543.09" y="64.00" width="4.14" height="4.70" fill="#ffeeee"/>
<rect x="547.23" y="64.00" width="4.14" height="4.70" fill="#ff9a9a"/>
<rect x="551.37" y="64.00" width="4.14" height="4.70" fill="#ffe3e3"/>
<rect x="555.51" y="64.00" width="4.14" height="4.70" fill="#fff4f4"/>
<rect x="559.65" y="64.00" width="4.14" height="4.70" fill="#dd0005"/>
<rect x="563.79" y="64.00" width="4.14" height="4.70" fill="#fff4f4"/>
<rect x="576.21" y="64.00" width="4.14" height="4.70" fill="#ff9a9a"/>
<rect x="514.11" y="68.70" width="4.14" height="4.70" fill="#fff4f4"/>
<rect x="518.25" y="68.70" width="4.14" height="4.70" fill="#fff4f4"/>
<rect x="538.95" y="68.70" width="4.14" height="4.70" fill="#fff1f1"/>
<rect x="543.09" y="68.70" width="4.14" height="4.70" fill="#ffe3e3"/>
<rect x="547.23" y="68.70" width="4.14" height="4.70" fill="#ffd9d9"/>
<rect x="551.37" y="68.70" width="4.14" height="4.70" fill="#ffeeee"/>
<rect x="555.51" y="68.70" width="4.14" height="4.70" fill="#ffd9d9"/>
<rect x="559.65" y="68.70" width="4.14" height="4.70" fill="#ffcece"/>
<rect x="563.79" y="68.70" width="4.14" height="4.70" fill="#fff4f4"/>
<rect x="576.21" y="68.70" width="4.14" height="4.70" fill="#ffcece"/>
<rect x="509.97" y="73.40" width="4.14" height="4.70" fill="#fff4f4"/>
<rect x="555.51" y="73.40" width="4.14" height="4.70" fill="#ffadad"/>
<rect x="559.65" y="73.40" width="4.14" height="4.70" fill="#ff2929"/>
<rect x="563.79" y="73.40" width="4.14" height="4.70" fill="#ffe3e3"/>
<rect x="514.11" y="78.10" width="4.14" height="4.70" fill="#fff4f4"/>
<rect x="543.09" y="78.10" width="4.14" height="4.70" fill="#fff1f1"/>
<rect x="547.23" y="78.10" width="4.14" height="4.70" fill="#ffeeee"/>
<rect x="551.37" y="78.10" width="4.14" height="4.70" fill="#ffcece"/>
<rect x="555.51" y="78.10" width="4.14" height="4.70" fill="#ffadad"/>
<rect x="559.65" y="78.10" width="4.14" height="4.70" fill="#ff4949"/>
<rect x="563.79" y="78.10" width="4.14" height="4.70" fill="#ff9a9a"/>
<rect x="514.11" y="82.80" width="4.14" height="4.70" fill="#ffe3e3"/>
<rect x="518.25" y="82.80" width="4.14" height="4.70" fill="#fff4f4"/>
<rect x="538.95" y="82.80" width="4.14" height="4.70" fill="#ffeeee"/>
<rect x="543.09" y="82.80" width="4.14" height="4.70" fill="#ffe3e3"/>
<rect x="547.23" y="82.80" width="4.14" height="4.70" fill="#ffd9d9"/>
<rect x="551.37" y="82.80" width="4.14" height="4.70" fill="#ffcece"/>
<rect x="555.51" y="82.80" width="4.14" height="4.70" fill="#ffadad"/>
<rect x="559.65" y="82.80" width="4.14" height="4.70" fill="#ffcece"/>
<rect x="514.11" y="87.50" width="4.14" height="4.70" fill="#fff1f1"/>
<rect x="526.53" y="87.50" width="4.14" height="4.70" fill="#fff4f4"/>
<rect x="538.95" y="87.50" width="4.14" height="4.70" fill="#ffeeee"/>
<rect x="543.09" y="87.50" width="4.14" height="4.70" fill="#ffe3e3"/>
<rect x="547.23" y="87.50" width="4.14" height="4.70" fill="#ffd9d9"/>
<rect x="551.37" y="87.50" width="4.14" height="4.70" fill="#ffcece"/>
<rect x="555.51" y="87.50" width="4.14" height="4.70" fill="#ffcece"/>
<rect x="559.65" y="87.50" width="4.14" height="4.70" fill="#ffe3e3"/>
<rect x="514.11" y="92.20" width="4.14" height="4.70" fill="#fff4f4"/>
<rect x="543.09" y="92.20" width="4.14" height="4.70" fill="#ffd9d9"/>
<rect x="547.23" y="92.20" width="4.14" height="4.70" fill="#ffd9d9"/>
<rect x="551.37" y="92.20" width="4.14" height="4.70" fill="#ffcece"/>
<rect x="555.51" y="92.20" width="4.14" height="4.70" fill="#fff4f4"/>
<rect x="559.65" y="92.20" width="4.14" height="4.70" fill="#fff4f4"/>
<rect x="572.07" y="92.20" width="4.14" height="4.70" fill="#ffc0c0"/>
<rect x="580.35" y="59.30" width="4.14" height="4.70" fill="#fd1313"/>
<rect x="580.35" y="64.00" width="4.14" height="4.70" fill="#ff2929"/>
<rect x="642.45" y="64.00" width="4.14" height="4.70" fill="#fa0000"/>
<rect x="580.35" y="68.70" width="4.14" height="4.70" fill="#ff4949"/>
<rect x="592.77" y="73.40" width="4.14" height="4.70" fill="#ffe3e3"/>
<rect x="601.05" y="73.40" width="4.14" height="4.70" fill="#ffc0c0"/>
<rect x="605.19" y="73.40" width="4.14" height="4.70" fill="#ff9a9a"/>
<rect x="609.33" y="73.40" width="4.14" height="4.70" fill="#ffadad"/>
<rect x="576.21" y="78.10" width="4.14" height="4.70" fill="#ffeeee"/>
<rect x="580.35" y="78.10" width="4.14" height="4.70" fill="#fff1f1"/>
<rect x="584.49" y="78.10" width="4.14" height="4.70" fill="#ffeeee"/>
<rect x="588.63" y="78.10" width="4.14" height="4.70" fill="#ffcece"/>
<rect x="596.91" y="78.10" width="4.14" height="4.70" fill="#ffeeee"/>
<rect x="601.05" y="78.10" width="4.14" height="4.70" fill="#ffc0c0"/>
<rect x="605.19" y="78.10" width="4.14" height="4.70" fill="#ffadad"/>
<rect x="609.33" y="78.10" width="4.14" height="4.70" fill="#ffadad"/>
<rect x="621.75" y="78.10" width="4.14" height="4.70" fill="#fff4f4"/>
<rect x="638.31" y="78.10" width="4.14" height="4.70" fill="#fff4f4"/>
<rect x="613.47" y="82.80" width="4.14" height="4.70" fill="#ff9a9a"/>
<rect x="630.03" y="82.80" width="4.14" height="4.70" fill="#fa0000"/>
<rect x="634.17" y="82.80" width="4.14" height="4.70" fill="#ff9a9a"/>
<rect x="642.45" y="82.80" width="4.14" height="4.70" fill="#fd1313"/>
<rect x="576.21" y="87.50" width="4.14" height="4.70" fill="#fff4f4"/>
<rect x="580.35" y="87.50" width="4.14" height="4.70" fill="#fff4f4"/>
<rect x="592.77" y="87.50" width="4.14" height="4.70" fill="#ffe3e3"/>
<rect x="596.91" y="87.50" width="4.14" height="4.70" fill="#ffeeee"/>
<rect x="601.05" y="87.50" width="4.14" height="4.70" fill="#fff1f1"/>
<rect x="605.19" y="87.50" width="4.14" height="4.70" fill="#fff4f4"/>
<rect x="638.31" y="87.50" width="4.14" height="4.70" fill="#ffd9d9"/>
<rect x="642.45" y="87.50" width="4.14" height="4.70" fill="#ffd9d9"/>
<rect x="580.35" y="92.20" width="4.14" height="4.70" fill="#fd1313"/>
<rect x="605.19" y="92.20" width="4.14" height="4.70" fill="#ff4949"/>
<rect x="638.31" y="92.20" width="4.14" height="4.70" fill="#ffe3e3"/>
<rect x="642.45" y="92.20" width="4.14" height="4.70" fill="#ffe3e3"/>
<rect x="576.21" y="96.90" width="4.14" height="4.70" fill="#fff1f1"/>
<rect x="472.71" y="96.90" width="4.14" height="4.70" fill="#fff8f8"/>
<rect x="485.13" y="101.60" width="4.14" height="4.70" fill="#fff6f6"/>
<rect x="489.27" y="101.60" width="4.14" height="4.70" fill="#ffe3e3"/>
<rect x="493.41" y="101.60" width="4.14" height="4.70" fill="#fff6f6"/>
<rect x="497.55" y="101.60" width="4.14" height="4.70" fill="#ffeeee"/>
<rect x="501.69" y="101.60" width="4.14" height="4.70" fill="#ffeeee"/>
<rect x="505.83" y="101.60" width="4.14" height="4.70" fill="#ff4949"/>
<rect x="509.97" y="101.60" width="4.14" height="4.70" fill="#ff4949"/>
<rect x="485.13" y="106.30" width="4.14" height="4.70" fill="#fff6f6"/>
<rect x="505.83" y="106.30" width="4.14" height="4.70" fill="#fff1f1"/>
<rect x="509.97" y="106.30" width="4.14" height="4.70" fill="#d40006"/>
<rect x="472.71" y="111.00" width="4.14" height="4.70" fill="#fff1f1"/>
<rect x="489.27" y="111.00" width="4.14" height="4.70" fill="#ffd9d9"/>
<rect x="505.83" y="111.00" width="4.14" height="4.70" fill="#ffcece"/>
<rect x="509.97" y="111.00" width="4.14" height="4.70" fill="#ff6868"/>
<rect x="476.85" y="115.70" width="4.14" height="4.70" fill="#ffe3e3"/>
<rect x="501.69" y="115.70" width="4.14" height="4.70" fill="#ffd9d9"/>
<rect x="509.97" y="115.70" width="4.14" height="4.70" fill="#fff1f1"/>
<rect x="514.11" y="96.90" width="4.14" height="4.70" fill="#ffe3e3"/>
<rect x="518.25" y="96.90" width="4.14" height="4.70" fill="#ffadad"/>
<rect x="522.39" y="96.90" width="4.14" height="4.70" fill="#ffadad"/>
<rect x="526.53" y="96.90" width="4.14" height="4.70" fill="#ffe3e3"/>
<rect x="530.67" y="96.90" width="4.14" height="4.70" fill="#ffd9d9"/>
<rect x="534.81" y="96.90" width="4.14" height="4.70" fill="#ff9a9a"/>
<rect x="538.95" y="96.90" width="4.14" height="4.70" fill="#fa0000"/>
<rect x="543.09" y="96.90" width="4.14" height="4.70" fill="#fa0000"/>
<rect x="547.23" y="96.90" width="4.14" height="4.70" fill="#ff9a9a"/>
<rect x="551.37" y="96.90" width="4.14" height="4.70" fill="#ffd9d9"/>
<rect x="555.51" y="96.90" width="4.14" height="4.70" fill="#ffe3e3"/>
<rect x="567.93" y="96.90" width="4.14" height="4.70" fill="#fff4f4"/>
<rect x="572.07" y="96.90" width="4.14" height="4.70" fill="#ffcece"/>
<rect x="514.11" y="101.60" width="4.14" height="4.70" fill="#ff9a9a"/>
<rect x="518.25" y="101.60" width="4.14" height="4.70" fill="#ff4949"/>
<rect x="522.39" y="101.60" width="4.14" height="4.70" fill="#ffc0c0"/>
<rect x="526.53" y="101.60" width="4.14" height="4.70" fill="#ffe3e3"/>
<rect x="530.67" y="101.60" width="4.14" height="4.70" fill="#ff9a9a"/>
<rect x="534.81" y="101.60" width="4.14" height="4.70" fill="#ff2929"/>
<rect x="538.95" y="101.60" width="4.14" height="4.70" fill="#fa0000"/>
<rect x="543.09" y="101.60" width="4.14" height="4.70" fill="#fd1313"/>
<rect x="547.23" y="101.60" width="4.14" height="4.70" fill="#ff6868"/>
<rect x="551.37" y="101.60" width="4.14" height="4.70" fill="#ffc0c0"/>
<rect x="555.51" y="101.60" width="4.14" height="4.70" fill="#ff9a9a"/>
<rect x="559.65" y="101.60" width="4.14" height="4.70" fill="#ffcece"/>
<rect x="563.79" y="101.60" width="4.14" height="4.70" fill="#fff4f4"/>
<rect x="567.93" y="101.60" width="4.14" height="4.70" fill="#ffeeee"/>
<rect x="572.07" y="101.60" width="4.14" height="4.70" fill="#ffd9d9"/>
<rect x="514.11" y="106.30" width="4.14" height="4.70" fill="#ff4949"/>
<rect x="518.25" y="106.30" width="4.14" height="4.70" fill="#ff2929"/>
<rect x="522.39" y="106.30" width="4.14" height="4.70" fill="#ff4949"/>
<rect x="534.81" y="106.30" width="4.14" height="4.70" fill="#ff6868"/>
<rect x="538.95" y="106.30" width="4.14" height="4.70" fill="#ffadad"/>
<rect x="543.09" y="106.30" width="4.14" height="4.70" fill="#ffc0c0"/>
<rect x="547.23" y="106.30" width="4.14" height="4.70" fill="#ff9a9a"/>
<rect x="551.37" y="106.30" width="4.14" height="4.70" fill="#ffcece"/>
<rect x="555.51" y="106.30" width="4.14" height="4.70" fill="#ff9a9a"/>
<rect x="559.65" y="106.30" width="4.14" height="4.70" fill="#ff6868"/>
<rect x="563.79" y="106.30" width="4.14" height="4.70" fill="#ffd9d9"/>
<rect x="567.93" y="106.30" width="4.14" height="4.70" fill="#fff4f4"/>
<rect x="514.11" y="111.00" width="4.14" height="4.70" fill="#ffadad"/>
<rect x="518.25" y="111.00" width="4.14" height="4.70" fill="#ff8787"/>
<rect x="526.53" y="111.00" width="4.14" height="4.70" fill="#fff6f6"/>
<rect x="534.81" y="111.00" width="4.14" height="4.70" fill="#ffd9d9"/>
<rect x="538.95" y="111.00" width="4.14" height="4.70" fill="#ffd9d9"/>
<rect x="543.09" y="111.00" width="4.14" height="4.70" fill="#ff9a9a"/>
<rect x="547.23" y="111.00" width="4.14" height="4.70" fill="#fd1313"/>
<rect x="555.51" y="111.00" width="4.14" height="4.70" fill="#ffeeee"/>
<rect x="559.65" y="111.00" width="4.14" height="4.70" fill="#ffc0c0"/>
<rect x="567.93" y="111.00" width="4.14" height="4.70" fill="#ffd9d9"/>
<rect x="518.25" y="115.70" width="4.14" height="4.70" fill="#ffadad"/>
<rect x="522.39" y="115.70" width="4.14" height="4.70" fill="#fd1313"/>
<rect x="530.67" y="115.70" width="4.14" height="4.70" fill="#eb0002"/>
<rect x="534.81" y="115.70" width="4.14" height="4.70" fill="#ffadad"/>
<rect x="538.95" y="115.70" width="4.14" height="4.70" fill="#ffc0c0"/>
<rect x="543.09" y="115.70" width="4.14" height="4.70" fill="#ff6868"/>
<rect x="547.23" y="115.70" width="4.14" height="4.70" fill="#ff9a9a"/>
<rect x="551.37" y="115.70" width="4.14" height="4.70" fill="#fff4f4"/>
<rect x="555.51" y="115.70" width="4.14" height="4.70" fill="#fff4f4"/>
<rect x="559.65" y="115.70" width="4.14" height="4.70" fill="#ffe3e3"/>
<rect x="563.79" y="115.70" width="4.14" height="4.70" fill="#ffc0c0"/>
<rect x="518.25" y="120.40" width="4.14" height="4.70" fill="#fff1f1"/>
<rect x="530.67" y="120.40" width="4.14" height="4.70" fill="#eb0002"/>
<rect x="534.81" y="120.40" width="4.14" height="4.70" fill="#ffcece"/>
<rect x="538.95" y="120.40" width="4.14" height="4.70" fill="#ffd9d9"/>
<rect x="547.23" y="120.40" width="4.14" height="4.70" fill="#ffcece"/>
<rect x="559.65" y="120.40" width="4.14" height="4.70" fill="#ff9a9a"/>
<rect x="563.79" y="120.40" width="4.14" height="4.70" fill="#ffc0c0"/>
<rect x="567.93" y="120.40" width="4.14" height="4.70" fill="#ffc0c0"/>
<rect x="514.11" y="125.10" width="4.14" height="4.70" fill="#ffe3e3"/>
<rect x="518.25" y="125.10" width="4.14" height="4.70" fill="#ffeeee"/>
<rect x="522.39" y="125.10" width="4.14" height="4.70" fill="#ffeeee"/>
<rect x="547.23" y="125.10" width="4.14" height="4.70" fill="#fff4f4"/>
<rect x="551.37" y="125.10" width="4.14" height="4.70" fill="#ffe3e3"/>
<rect x="572.07" y="125.10" width="4.14" height="4.70" fill="#ffadad"/>
<rect x="538.95" y="129.80" width="4.14" height="4.70" fill="#ffd9d9"/>
<rect x="543.09" y="129.80" width="4.14" height="4.70" fill="#ff2929"/>
<rect x="551.37" y="129.80" width="4.14" height="4.70" fill="#ff9a9a"/>
<rect x="572.07" y="129.80" width="4.14" height="4.70" fill="#ffe3e3"/>
<rect x="534.81" y="134.50" width="4.14" height="4.70" fill="#ffd9d9"/>
<rect x="588.63" y="106.30" width="4.14" height="4.70" fill="#ff6868"/>
<rect x="592.77" y="106.30" width="4.14" height="4.70" fill="#b60008"/>
<rect x="584.49" y="111.00" width="4.14" height="4.70" fill="#ffd9d9"/>
<rect x="596.91" y="111.00" width="4.14" height="4.70" fill="#ff4949"/>
<rect x="584.49" y="115.70" width="4.14" height="4.70" fill="#ff8787"/>
<rect x="588.63" y="115.70" width="4.14" height="4.70" fill="#ff9a9a"/>
<rect x="592.77" y="115.70" width="4.14" height="4.70" fill="#fff4f4"/>
<rect x="584.49" y="120.40" width="4.14" height="4.70" fill="#ffd9d9"/>
<rect x="576.21" y="129.80" width="4.14" height="4.70" fill="#fff6f6"/>
<rect x="580.35" y="134.50" width="4.14" height="4.70" fill="#fff4f4"/>
<rect x="584.49" y="139.20" width="4.14" height="4.70" fill="#ff6868"/>
</g>
<clipPath id="clip0"><rect x="78.05" y="9.3" width="277.55" height="172.39999999999998"/></clipPath>
<g clip-path="url(#clip0)" fill="none" stroke="#000" stroke-width="2.1" stroke-linejoin="round">
<path d="M78.05,12.41 L87.25,16.60 L96.45,20.52 L105.65,24.22 L114.85,27.73 L124.05,31.06 L133.25,34.21 L142.45,37.21 L151.65,40.05 L160.85,42.74 L170.05,45.28 L179.25,47.69 L188.45,49.95 L197.65,52.08 L206.85,54.08 L216.05,55.95 L225.25,57.70 L234.45,59.32 L243.65,60.83 L252.85,62.24 L262.05,63.53 L271.25,64.73 L280.45,65.83 L289.65,66.85 L298.85,67.78 L308.05,68.63 L317.25,69.41 L326.45,70.13 L335.65,70.78 L344.85,71.37 L354.05,71.91 L363.25,72.40"/>
<path d="M78.05,14.62 L87.25,18.87 L96.45,22.92 L105.65,26.78 L114.85,30.45 L124.05,33.94 L133.25,37.25 L142.45,40.38 L151.65,43.34 L160.85,46.13 L170.05,48.74 L179.25,51.19 L188.45,53.47 L197.65,55.60 L206.85,57.57 L216.05,59.39 L225.25,61.07 L234.45,62.61 L243.65,64.02 L252.85,65.31 L262.05,66.49 L271.25,67.56 L280.45,68.53 L289.65,69.41 L298.85,70.20 L308.05,70.92 L317.25,71.56 L326.45,72.14 L335.65,72.67 L344.85,73.13 L354.05,73.55 L363.25,73.93" stroke-dasharray="6.7 3.1"/>
<path d="M105.65,197.69 L114.85,165.08 L124.05,147.40 L133.25,135.53 L142.45,126.76 L151.65,119.95 L160.85,114.45 L170.05,109.92 L179.25,106.12 L188.45,102.88 L197.65,100.09 L206.85,97.68 L216.05,95.57 L225.25,93.71 L234.45,92.07 L243.65,90.62 L252.85,89.32 L262.05,88.17 L271.25,87.13 L280.45,86.20 L289.65,85.36 L298.85,84.61 L308.05,83.93 L317.25,83.31 L326.45,82.76 L335.65,82.25 L344.85,81.79 L354.05,81.38 L363.25,81.00"/>
<line x1="78.05" y1="77.15" x2="355.6" y2="77.15" stroke-dasharray="6.7 3.1"/>
</g>
<text x="113.20" y="20.80" font-size="11" textLength="6.89" lengthAdjust="spacingAndGlyphs" >A</text>
<text x="119.50" y="22.50" font-size="8.4" font-style="italic" textLength="8.27" lengthAdjust="spacingAndGlyphs" >m</text>
<text x="114.80" y="43.50" font-size="11" textLength="6.79" lengthAdjust="spacingAndGlyphs" >A</text>
<text x="120.51" y="45.50" font-size="8.4" font-style="italic" textLength="4.91" lengthAdjust="spacingAndGlyphs" >c</text>
<text x="115.00" y="176.20" font-size="11" textLength="6.79" lengthAdjust="spacingAndGlyphs" >A</text>
<text x="121.27" y="178.00" font-size="8.4" font-style="italic" textLength="3.05" lengthAdjust="spacingAndGlyphs" >f</text>
<clipPath id="clip295"><rect x="373.35" y="9.3" width="277.55" height="172.39999999999998"/></clipPath>
<g clip-path="url(#clip295)" fill="none" stroke="#000" stroke-width="2.1" stroke-linejoin="round">
<path d="M373.35,12.41 L382.55,16.60 L391.75,20.52 L400.95,24.22 L410.15,27.73 L419.35,31.06 L428.55,34.21 L437.75,37.21 L446.95,40.05 L456.15,42.74 L465.35,45.28 L474.55,47.69 L483.75,49.95 L492.95,52.08 L502.15,54.08 L511.35,55.95 L520.55,57.70 L529.75,59.32 L538.95,60.83 L548.15,62.24 L557.35,63.53 L566.55,64.73 L575.75,65.83 L584.95,66.85 L594.15,67.78 L603.35,68.63 L612.55,69.41 L621.75,70.13 L630.95,70.78 L640.15,71.37 L649.35,71.91 L658.55,72.40"/>
<path d="M373.35,14.62 L382.55,18.87 L391.75,22.92 L400.95,26.78 L410.15,30.45 L419.35,33.94 L428.55,37.25 L437.75,40.38 L446.95,43.34 L456.15,46.13 L465.35,48.74 L474.55,51.19 L483.75,53.47 L492.95,55.60 L502.15,57.57 L511.35,59.39 L520.55,61.07 L529.75,62.61 L538.95,64.02 L548.15,65.31 L557.35,66.49 L566.55,67.56 L575.75,68.53 L584.95,69.41 L594.15,70.20 L603.35,70.92 L612.55,71.56 L621.75,72.14 L630.95,72.67 L640.15,73.13 L649.35,73.55 L658.55,73.93" stroke-dasharray="6.7 3.1"/>
<path d="M400.95,197.69 L410.15,165.08 L419.35,147.40 L428.55,135.53 L437.75,126.76 L446.95,119.95 L456.15,114.45 L465.35,109.92 L474.55,106.12 L483.75,102.88 L492.95,100.09 L502.15,97.68 L511.35,95.57 L520.55,93.71 L529.75,92.07 L538.95,90.62 L548.15,89.32 L557.35,88.17 L566.55,87.13 L575.75,86.20 L584.95,85.36 L594.15,84.61 L603.35,83.93 L612.55,83.31 L621.75,82.76 L630.95,82.25 L640.15,81.79 L649.35,81.38 L658.55,81.00"/>
<line x1="373.35" y1="77.15" x2="650.9000000000001" y2="77.15" stroke-dasharray="6.7 3.1"/>
</g>
<text x="408.50" y="20.80" font-size="11" textLength="6.89" lengthAdjust="spacingAndGlyphs" >A</text>
<text x="414.80" y="22.50" font-size="8.4" font-style="italic" textLength="8.27" lengthAdjust="spacingAndGlyphs" >m</text>
<text x="410.10" y="43.50" font-size="11" textLength="6.79" lengthAdjust="spacingAndGlyphs" >A</text>
<text x="415.81" y="45.50" font-size="8.4" font-style="italic" textLength="4.91" lengthAdjust="spacingAndGlyphs" >c</text>
<text x="410.30" y="176.20" font-size="11" textLength="6.79" lengthAdjust="spacingAndGlyphs" >A</text>
<text x="416.57" y="178.00" font-size="8.4" font-style="italic" textLength="3.05" lengthAdjust="spacingAndGlyphs" >f</text>
<line x1="78.05" y1="181.70" x2="78.05" y2="185.90" stroke="#000" stroke-width="1.6" />
<line x1="105.74" y1="181.70" x2="105.74" y2="184.60" stroke="#333" stroke-width="0.9" />
<line x1="121.95" y1="181.70" x2="121.95" y2="184.60" stroke="#333" stroke-width="0.9" />
<line x1="133.44" y1="181.70" x2="133.44" y2="184.60" stroke="#333" stroke-width="0.9" />
<line x1="142.36" y1="181.70" x2="142.36" y2="184.60" stroke="#333" stroke-width="0.9" />
<line x1="149.64" y1="181.70" x2="149.64" y2="184.60" stroke="#333" stroke-width="0.9" />
<line x1="155.80" y1="181.70" x2="155.80" y2="184.60" stroke="#333" stroke-width="0.9" />
<line x1="161.13" y1="181.70" x2="161.13" y2="184.60" stroke="#333" stroke-width="0.9" />
<line x1="165.84" y1="181.70" x2="165.84" y2="184.60" stroke="#333" stroke-width="0.9" />
<line x1="170.05" y1="181.70" x2="170.05" y2="185.90" stroke="#000" stroke-width="1.6" />
<line x1="197.74" y1="181.70" x2="197.74" y2="184.60" stroke="#333" stroke-width="0.9" />
<line x1="213.95" y1="181.70" x2="213.95" y2="184.60" stroke="#333" stroke-width="0.9" />
<line x1="225.44" y1="181.70" x2="225.44" y2="184.60" stroke="#333" stroke-width="0.9" />
<line x1="234.36" y1="181.70" x2="234.36" y2="184.60" stroke="#333" stroke-width="0.9" />
<line x1="241.64" y1="181.70" x2="241.64" y2="184.60" stroke="#333" stroke-width="0.9" />
<line x1="247.80" y1="181.70" x2="247.80" y2="184.60" stroke="#333" stroke-width="0.9" />
<line x1="253.13" y1="181.70" x2="253.13" y2="184.60" stroke="#333" stroke-width="0.9" />
<line x1="257.84" y1="181.70" x2="257.84" y2="184.60" stroke="#333" stroke-width="0.9" />
<line x1="262.05" y1="181.70" x2="262.05" y2="185.90" stroke="#000" stroke-width="1.6" />
<line x1="289.74" y1="181.70" x2="289.74" y2="184.60" stroke="#333" stroke-width="0.9" />
<line x1="305.95" y1="181.70" x2="305.95" y2="184.60" stroke="#333" stroke-width="0.9" />
<line x1="317.44" y1="181.70" x2="317.44" y2="184.60" stroke="#333" stroke-width="0.9" />
<line x1="326.36" y1="181.70" x2="326.36" y2="184.60" stroke="#333" stroke-width="0.9" />
<line x1="333.64" y1="181.70" x2="333.64" y2="184.60" stroke="#333" stroke-width="0.9" />
<line x1="339.80" y1="181.70" x2="339.80" y2="184.60" stroke="#333" stroke-width="0.9" />
<line x1="345.13" y1="181.70" x2="345.13" y2="184.60" stroke="#333" stroke-width="0.9" />
<line x1="349.84" y1="181.70" x2="349.84" y2="184.60" stroke="#333" stroke-width="0.9" />
<line x1="354.05" y1="181.70" x2="354.05" y2="185.90" stroke="#000" stroke-width="1.6" />
<line x1="78.05" y1="181.50" x2="73.85" y2="181.50" stroke="#000" stroke-width="1.6" />
<line x1="78.05" y1="150.04" x2="75.15" y2="150.04" stroke="#333" stroke-width="0.9" />
<line x1="78.05" y1="131.64" x2="75.15" y2="131.64" stroke="#333" stroke-width="0.9" />
<line x1="78.05" y1="118.58" x2="75.15" y2="118.58" stroke="#333" stroke-width="0.9" />
<line x1="78.05" y1="108.46" x2="75.15" y2="108.46" stroke="#333" stroke-width="0.9" />
<line x1="78.05" y1="100.18" x2="75.15" y2="100.18" stroke="#333" stroke-width="0.9" />
<line x1="78.05" y1="93.19" x2="75.15" y2="93.19" stroke="#333" stroke-width="0.9" />
<line x1="78.05" y1="87.13" x2="75.15" y2="87.13" stroke="#333" stroke-width="0.9" />
<line x1="78.05" y1="81.78" x2="75.15" y2="81.78" stroke="#333" stroke-width="0.9" />
<line x1="78.05" y1="77.00" x2="73.85" y2="77.00" stroke="#000" stroke-width="1.6" />
<line x1="78.05" y1="45.54" x2="75.15" y2="45.54" stroke="#333" stroke-width="0.9" />
<line x1="78.05" y1="27.14" x2="75.15" y2="27.14" stroke="#333" stroke-width="0.9" />
<line x1="78.05" y1="14.08" x2="75.15" y2="14.08" stroke="#333" stroke-width="0.9" />
<rect x="78.05" y="9.30" width="277.55" height="172.40" fill="none" stroke="#000" stroke-width="2.1"/>
<line x1="373.35" y1="181.70" x2="373.35" y2="185.90" stroke="#000" stroke-width="1.6" />
<line x1="401.04" y1="181.70" x2="401.04" y2="184.60" stroke="#333" stroke-width="0.9" />
<line x1="417.25" y1="181.70" x2="417.25" y2="184.60" stroke="#333" stroke-width="0.9" />
<line x1="428.74" y1="181.70" x2="428.74" y2="184.60" stroke="#333" stroke-width="0.9" />
<line x1="437.66" y1="181.70" x2="437.66" y2="184.60" stroke="#333" stroke-width="0.9" />
<line x1="444.94" y1="181.70" x2="444.94" y2="184.60" stroke="#333" stroke-width="0.9" />
<line x1="451.10" y1="181.70" x2="451.10" y2="184.60" stroke="#333" stroke-width="0.9" />
<line x1="456.43" y1="181.70" x2="456.43" y2="184.60" stroke="#333" stroke-width="0.9" />
<line x1="461.14" y1="181.70" x2="461.14" y2="184.60" stroke="#333" stroke-width="0.9" />
<line x1="465.35" y1="181.70" x2="465.35" y2="185.90" stroke="#000" stroke-width="1.6" />
<line x1="493.04" y1="181.70" x2="493.04" y2="184.60" stroke="#333" stroke-width="0.9" />
<line x1="509.25" y1="181.70" x2="509.25" y2="184.60" stroke="#333" stroke-width="0.9" />
<line x1="520.74" y1="181.70" x2="520.74" y2="184.60" stroke="#333" stroke-width="0.9" />
<line x1="529.66" y1="181.70" x2="529.66" y2="184.60" stroke="#333" stroke-width="0.9" />
<line x1="536.94" y1="181.70" x2="536.94" y2="184.60" stroke="#333" stroke-width="0.9" />
<line x1="543.10" y1="181.70" x2="543.10" y2="184.60" stroke="#333" stroke-width="0.9" />
<line x1="548.43" y1="181.70" x2="548.43" y2="184.60" stroke="#333" stroke-width="0.9" />
<line x1="553.14" y1="181.70" x2="553.14" y2="184.60" stroke="#333" stroke-width="0.9" />
<line x1="557.35" y1="181.70" x2="557.35" y2="185.90" stroke="#000" stroke-width="1.6" />
<line x1="585.04" y1="181.70" x2="585.04" y2="184.60" stroke="#333" stroke-width="0.9" />
<line x1="601.25" y1="181.70" x2="601.25" y2="184.60" stroke="#333" stroke-width="0.9" />
<line x1="612.74" y1="181.70" x2="612.74" y2="184.60" stroke="#333" stroke-width="0.9" />
<line x1="621.66" y1="181.70" x2="621.66" y2="184.60" stroke="#333" stroke-width="0.9" />
<line x1="628.94" y1="181.70" x2="628.94" y2="184.60" stroke="#333" stroke-width="0.9" />
<line x1="635.10" y1="181.70" x2="635.10" y2="184.60" stroke="#333" stroke-width="0.9" />
<line x1="640.43" y1="181.70" x2="640.43" y2="184.60" stroke="#333" stroke-width="0.9" />
<line x1="645.14" y1="181.70" x2="645.14" y2="184.60" stroke="#333" stroke-width="0.9" />
<line x1="649.35" y1="181.70" x2="649.35" y2="185.90" stroke="#000" stroke-width="1.6" />
<line x1="650.90" y1="181.50" x2="655.10" y2="181.50" stroke="#000" stroke-width="1.6" />
<line x1="650.90" y1="150.04" x2="653.80" y2="150.04" stroke="#333" stroke-width="0.9" />
<line x1="650.90" y1="131.64" x2="653.80" y2="131.64" stroke="#333" stroke-width="0.9" />
<line x1="650.90" y1="118.58" x2="653.80" y2="118.58" stroke="#333" stroke-width="0.9" />
<line x1="650.90" y1="108.46" x2="653.80" y2="108.46" stroke="#333" stroke-width="0.9" />
<line x1="650.90" y1="100.18" x2="653.80" y2="100.18" stroke="#333" stroke-width="0.9" />
<line x1="650.90" y1="93.19" x2="653.80" y2="93.19" stroke="#333" stroke-width="0.9" />
<line x1="650.90" y1="87.13" x2="653.80" y2="87.13" stroke="#333" stroke-width="0.9" />
<line x1="650.90" y1="81.78" x2="653.80" y2="81.78" stroke="#333" stroke-width="0.9" />
<line x1="650.90" y1="77.00" x2="655.10" y2="77.00" stroke="#000" stroke-width="1.6" />
<line x1="650.90" y1="45.54" x2="653.80" y2="45.54" stroke="#333" stroke-width="0.9" />
<line x1="650.90" y1="27.14" x2="653.80" y2="27.14" stroke="#333" stroke-width="0.9" />
<line x1="650.90" y1="14.08" x2="653.80" y2="14.08" stroke="#333" stroke-width="0.9" />
<rect x="373.35" y="9.30" width="277.55" height="172.40" fill="none" stroke="#000" stroke-width="2.1"/>
<text x="62.54" y="199.55" font-size="14" textLength="16.58" lengthAdjust="spacingAndGlyphs" >10</text>
<text x="79.87" y="194.90" font-size="10.5" textLength="6.55" lengthAdjust="spacingAndGlyphs" >−</text>
<text x="86.85" y="194.90" font-size="10.5" textLength="5.06" lengthAdjust="spacingAndGlyphs" >1</text>
<text x="158.14" y="199.55" font-size="14" textLength="16.58" lengthAdjust="spacingAndGlyphs" >10</text>
<text x="174.60" y="194.65" font-size="10.5" textLength="5.84" lengthAdjust="spacingAndGlyphs" >0</text>
<text x="250.34" y="199.55" font-size="14" textLength="16.58" lengthAdjust="spacingAndGlyphs" >10</text>
<text x="266.60" y="194.90" font-size="10.5" textLength="5.45" lengthAdjust="spacingAndGlyphs" >1</text>
<text x="335.84" y="199.55" font-size="14" textLength="16.58" lengthAdjust="spacingAndGlyphs" >10</text>
<text x="352.36" y="194.90" font-size="10.5" textLength="5.17" lengthAdjust="spacingAndGlyphs" >2</text>
<text x="369.64" y="199.55" font-size="14" textLength="16.58" lengthAdjust="spacingAndGlyphs" >10</text>
<text x="386.97" y="194.90" font-size="10.5" textLength="6.55" lengthAdjust="spacingAndGlyphs" >−</text>
<text x="393.95" y="194.90" font-size="10.5" textLength="5.06" lengthAdjust="spacingAndGlyphs" >1</text>
<text x="453.34" y="199.55" font-size="14" textLength="16.58" lengthAdjust="spacingAndGlyphs" >10</text>
<text x="469.80" y="194.65" font-size="10.5" textLength="5.84" lengthAdjust="spacingAndGlyphs" >0</text>
<text x="545.74" y="199.55" font-size="14" textLength="16.58" lengthAdjust="spacingAndGlyphs" >10</text>
<text x="562.00" y="194.90" font-size="10.5" textLength="5.45" lengthAdjust="spacingAndGlyphs" >1</text>
<text x="637.64" y="199.55" font-size="14" textLength="16.58" lengthAdjust="spacingAndGlyphs" >10</text>
<text x="654.16" y="194.90" font-size="10.5" textLength="5.17" lengthAdjust="spacingAndGlyphs" >2</text>
<text x="46.84" y="82.00" font-size="14" textLength="16.58" lengthAdjust="spacingAndGlyphs" >10</text>
<text x="63.30" y="77.35" font-size="10.5" textLength="5.84" lengthAdjust="spacingAndGlyphs" >0</text>
<text x="39.54" y="186.90" font-size="14" textLength="16.58" lengthAdjust="spacingAndGlyphs" >10</text>
<text x="56.87" y="181.80" font-size="10.5" textLength="6.55" lengthAdjust="spacingAndGlyphs" >−</text>
<text x="63.85" y="181.80" font-size="10.5" textLength="5.06" lengthAdjust="spacingAndGlyphs" >1</text>
<g transform="translate(19.6,118.8) rotate(-90)">
<text x="-1.38" y="0.00" font-size="15.5" textLength="11.41" lengthAdjust="spacingAndGlyphs" >P</text>
<text x="10.96" y="3.40" font-size="10.5" textLength="9.38" lengthAdjust="spacingAndGlyphs" >⊥</text>
<text x="22.10" y="0.00" font-size="15.5" textLength="4.67" lengthAdjust="spacingAndGlyphs" >/</text>
<text x="26.38" y="0.00" font-size="15.5" textLength="11.79" lengthAdjust="spacingAndGlyphs" >P</text>
<line x1="41.4" y1="-5.6" x2="41.4" y2="5.6" stroke="#000" stroke-width="0.95"/>
<line x1="43.3" y1="-5.6" x2="43.3" y2="5.6" stroke="#000" stroke-width="0.95"/>
</g>
<text x="206.18" y="220.60" font-size="18" font-style="italic" textLength="9.95" lengthAdjust="spacingAndGlyphs" >β</text>
<line x1="220.55" y1="214.50" x2="220.55" y2="225.80" stroke="#000" stroke-width="1.05" />
<line x1="222.57" y1="214.50" x2="222.57" y2="225.80" stroke="#000" stroke-width="1.05" />
<text x="501.68" y="220.60" font-size="18" font-style="italic" textLength="9.95" lengthAdjust="spacingAndGlyphs" >β</text>
<line x1="516.10" y1="214.50" x2="516.10" y2="225.80" stroke="#000" stroke-width="1.05" />
<line x1="518.12" y1="214.50" x2="518.12" y2="225.80" stroke="#000" stroke-width="1.05" />
<linearGradient id="g1" x1="0" x2="1" y1="0" y2="0">
<stop offset="0.000" stop-color="#ffffff"/>
<stop offset="0.025" stop-color="#fffcfc"/>
<stop offset="0.050" stop-color="#fff9f9"/>
<stop offset="0.075" stop-color="#fff6f6"/>
<stop offset="0.100" stop-color="#fff4f4"/>
<stop offset="0.125" stop-color="#fff1f1"/>
<stop offset="0.150" stop-color="#ffeeee"/>
<stop offset="0.175" stop-color="#ffe9e9"/>
<stop offset="0.200" stop-color="#ffe3e3"/>
<stop offset="0.225" stop-color="#ffdede"/>
<stop offset="0.250" stop-color="#ffd9d9"/>
<stop offset="0.275" stop-color="#ffd4d4"/>
<stop offset="0.300" stop-color="#ffcece"/>
<stop offset="0.325" stop-color="#ffc9c9"/>
<stop offset="0.350" stop-color="#ffc0c0"/>
<stop offset="0.375" stop-color="#ffb7b7"/>
<stop offset="0.400" stop-color="#ffadad"/>
<stop offset="0.425" stop-color="#ffa4a4"/>
<stop offset="0.450" stop-color="#ff9a9a"/>
<stop offset="0.475" stop-color="#ff9191"/>
<stop offset="0.500" stop-color="#ff8787"/>
<stop offset="0.525" stop-color="#ff7777"/>
<stop offset="0.550" stop-color="#ff6868"/>
<stop offset="0.575" stop-color="#ff5858"/>
<stop offset="0.600" stop-color="#ff4949"/>
<stop offset="0.625" stop-color="#ff3939"/>
<stop offset="0.650" stop-color="#ff2929"/>
<stop offset="0.675" stop-color="#fe1d1d"/>
<stop offset="0.700" stop-color="#fd1313"/>
<stop offset="0.725" stop-color="#fb0a0a"/>
<stop offset="0.750" stop-color="#fa0000"/>
<stop offset="0.775" stop-color="#f30001"/>
<stop offset="0.800" stop-color="#eb0002"/>
<stop offset="0.825" stop-color="#e40003"/>
<stop offset="0.850" stop-color="#dd0005"/>
<stop offset="0.875" stop-color="#d50006"/>
<stop offset="0.900" stop-color="#cd0006"/>
<stop offset="0.925" stop-color="#c50007"/>
<stop offset="0.950" stop-color="#bd0007"/>
<stop offset="0.975" stop-color="#b40008"/>
<stop offset="1.000" stop-color="#ac0008"/>
</linearGradient>
<rect x="237.1" y="214.1" width="143.50000000000003" height="6.5" fill="url(#g1)" stroke="#555" stroke-width="1"/>
<text x="236.00" y="231.70" font-size="10.8" >0.3</text>
<text x="258.00" y="231.70" font-size="10.8" >0.5</text>
<text x="280.00" y="231.70" font-size="10.8" >0.7</text>
<text x="302.00" y="231.70" font-size="10.8" >0.9</text>
<text x="323.52" y="231.70" font-size="10.8" >1.1</text>
<text x="345.52" y="231.70" font-size="10.8" >1.3</text>
<text x="367.52" y="231.70" font-size="10.8" >1.5</text>
<text x="289.92" y="243.00" font-size="10.8" textLength="7.77" lengthAdjust="spacingAndGlyphs" >B</text>
<text x="298.08" y="244.90" font-size="8.5" font-style="italic" textLength="6.45" lengthAdjust="spacingAndGlyphs" >w</text>
<text x="308.01" y="243.00" font-size="10.8" textLength="19.63" lengthAdjust="spacingAndGlyphs" >[nT]</text>
<linearGradient id="g2" x1="0" x2="1" y1="0" y2="0">
<stop offset="0.000" stop-color="#ffffff"/>
<stop offset="0.025" stop-color="#fffcfc"/>
<stop offset="0.050" stop-color="#fff9f9"/>
<stop offset="0.075" stop-color="#fff6f6"/>
<stop offset="0.100" stop-color="#fff4f4"/>
<stop offset="0.125" stop-color="#fff1f1"/>
<stop offset="0.150" stop-color="#ffeeee"/>
<stop offset="0.175" stop-color="#ffe9e9"/>
<stop offset="0.200" stop-color="#ffe3e3"/>
<stop offset="0.225" stop-color="#ffdede"/>
<stop offset="0.250" stop-color="#ffd9d9"/>
<stop offset="0.275" stop-color="#ffd4d4"/>
<stop offset="0.300" stop-color="#ffcece"/>
<stop offset="0.325" stop-color="#ffc9c9"/>
<stop offset="0.350" stop-color="#ffc0c0"/>
<stop offset="0.375" stop-color="#ffb7b7"/>
<stop offset="0.400" stop-color="#ffadad"/>
<stop offset="0.425" stop-color="#ffa4a4"/>
<stop offset="0.450" stop-color="#ff9a9a"/>
<stop offset="0.475" stop-color="#ff9191"/>
<stop offset="0.500" stop-color="#ff8787"/>
<stop offset="0.525" stop-color="#ff7777"/>
<stop offset="0.550" stop-color="#ff6868"/>
<stop offset="0.575" stop-color="#ff5858"/>
<stop offset="0.600" stop-color="#ff4949"/>
<stop offset="0.625" stop-color="#ff3939"/>
<stop offset="0.650" stop-color="#ff2929"/>
<stop offset="0.675" stop-color="#fe1d1d"/>
<stop offset="0.700" stop-color="#fd1313"/>
<stop offset="0.725" stop-color="#fb0a0a"/>
<stop offset="0.750" stop-color="#fa0000"/>
<stop offset="0.775" stop-color="#f30001"/>
<stop offset="0.800" stop-color="#eb0002"/>
<stop offset="0.825" stop-color="#e40003"/>
<stop offset="0.850" stop-color="#dd0005"/>
<stop offset="0.875" stop-color="#d50006"/>
<stop offset="0.900" stop-color="#cd0006"/>
<stop offset="0.925" stop-color="#c50007"/>
<stop offset="0.950" stop-color="#bd0007"/>
<stop offset="0.975" stop-color="#b40008"/>
<stop offset="1.000" stop-color="#ac0008"/>
</linearGradient>
<rect x="535.1" y="214.4" width="143.19999999999993" height="6.599999999999994" fill="url(#g2)" stroke="#555" stroke-width="1"/>
<text x="529.40" y="231.20" font-size="11.8" textLength="22.76" lengthAdjust="spacingAndGlyphs" >0.03</text>
<text x="556.20" y="231.20" font-size="11.8" textLength="22.76" lengthAdjust="spacingAndGlyphs" >0.04</text>
<text x="583.00" y="231.20" font-size="11.8" textLength="22.76" lengthAdjust="spacingAndGlyphs" >0.05</text>
<text x="609.80" y="231.20" font-size="11.8" textLength="22.76" lengthAdjust="spacingAndGlyphs" >0.06</text>
<text x="636.60" y="231.20" font-size="11.8" textLength="23.02" lengthAdjust="spacingAndGlyphs" >0.07</text>
<text x="663.40" y="231.20" font-size="11.8" textLength="22.76" lengthAdjust="spacingAndGlyphs" >0.08</text>
<text x="590.03" y="243.60" font-size="10.8" textLength="7.02" lengthAdjust="spacingAndGlyphs" >B</text>
<text x="598.23" y="245.40" font-size="8.5" font-style="italic" textLength="5.73" lengthAdjust="spacingAndGlyphs" >w</text>
<text x="604.30" y="243.60" font-size="10.8" textLength="3.20" lengthAdjust="spacingAndGlyphs" >/</text>
<text x="607.07" y="243.60" font-size="10.8" textLength="7.39" lengthAdjust="spacingAndGlyphs" >B</text>
<text x="615.92" y="245.60" font-size="8.5" font-style="italic" textLength="5.30" lengthAdjust="spacingAndGlyphs" >L</text>
<clipPath id="cc"><rect x="78.05" y="261.2" width="276.65" height="173.10000000000002"/></clipPath>
<g clip-path="url(#cc)" fill="none" stroke-width="2.1" stroke-linejoin="miter">
<path d="M72.93,307.00 L82.19,307.00 L82.19,278.00 L91.44,278.00 L91.44,315.00 L100.70,315.00 L100.70,307.00 L109.96,307.00 L109.96,359.50 L119.21,359.50 L119.21,348.00 L128.47,348.00 L128.47,359.50 L137.72,359.50 L137.72,397.50 L146.98,397.50 L146.98,393.00 L156.24,393.00 L156.24,413.75 L165.49,413.75 L165.49,393.00 L174.75,393.00 L174.75,422.00 L184.00,422.00 L184.00,413.75 L193.26,413.75 L193.26,413.75 L202.52,413.75 L202.52,417.50 L211.77,417.50 L211.77,422.00 L221.03,422.00 L221.03,430.00 L230.28,430.00 L230.28,417.50 L239.54,417.50 L239.54,434.30 L248.80,434.30 L248.80,434.30 L258.05,434.30 L258.05,430.00 L267.31,430.00 L267.31,425.75 L276.56,425.75 L276.56,430.00 L285.82,430.00 L285.82,434.30 L295.08,434.30 L295.08,430.00 L304.33,430.00 L304.33,434.30 L313.59,434.30 L313.59,434.30 L322.84,434.30 L322.84,430.00 L332.10,430.00 L332.10,430.00 L341.36,430.00 L341.36,434.30 L350.61,434.30 L350.61,434.30 L359.87,434.30" stroke="#000"/>
<path d="M72.93,392.50 L82.19,392.50 L82.19,392.50 L91.44,392.50 L91.44,392.50 L100.70,392.50 L100.70,402.50 L109.96,402.50 L109.96,382.00 L119.21,382.00 L119.21,365.75 L128.47,365.75 L128.47,355.75 L137.72,355.75 L137.72,376.75 L146.98,376.75 L146.98,402.50 L156.24,402.50 L156.24,376.75 L165.49,376.75 L165.49,340.00 L174.75,340.00 L174.75,360.50 L184.00,360.50 L184.00,365.75 L193.26,365.75 L193.26,371.25 L202.52,371.25 L202.52,360.50 L211.77,360.50 L211.77,402.50 L221.03,402.50 L221.03,408.00 L230.28,408.00 L230.28,381.75 L239.54,381.75 L239.54,397.50 L248.80,397.50 L248.80,397.50 L258.05,397.50 L258.05,387.00 L267.31,387.00 L267.31,413.25 L276.56,413.25 L276.56,418.25 L285.82,418.25 L285.82,418.25 L295.08,418.25 L295.08,429.30 L304.33,429.30 L304.33,423.60 L313.59,423.60 L313.59,434.30 L322.84,434.30 L322.84,434.30 L332.10,434.30 L332.10,429.30 L341.36,429.30 L341.36,434.30 L350.61,434.30" stroke="#cc1c24"/>
</g>
<line x1="82.19" y1="434.30" x2="82.19" y2="437.20" stroke="#333" stroke-width="0.9" />
<line x1="91.44" y1="434.30" x2="91.44" y2="437.20" stroke="#333" stroke-width="0.9" />
<line x1="109.96" y1="434.30" x2="109.96" y2="437.20" stroke="#333" stroke-width="0.9" />
<line x1="119.21" y1="434.30" x2="119.21" y2="437.20" stroke="#333" stroke-width="0.9" />
<line x1="128.47" y1="434.30" x2="128.47" y2="437.20" stroke="#333" stroke-width="0.9" />
<line x1="137.72" y1="434.30" x2="137.72" y2="437.20" stroke="#333" stroke-width="0.9" />
<line x1="156.24" y1="434.30" x2="156.24" y2="437.20" stroke="#333" stroke-width="0.9" />
<line x1="165.49" y1="434.30" x2="165.49" y2="437.20" stroke="#333" stroke-width="0.9" />
<line x1="174.75" y1="434.30" x2="174.75" y2="437.20" stroke="#333" stroke-width="0.9" />
<line x1="184.00" y1="434.30" x2="184.00" y2="437.20" stroke="#333" stroke-width="0.9" />
<line x1="202.52" y1="434.30" x2="202.52" y2="437.20" stroke="#333" stroke-width="0.9" />
<line x1="211.77" y1="434.30" x2="211.77" y2="437.20" stroke="#333" stroke-width="0.9" />
<line x1="221.03" y1="434.30" x2="221.03" y2="437.20" stroke="#333" stroke-width="0.9" />
<line x1="230.28" y1="434.30" x2="230.28" y2="437.20" stroke="#333" stroke-width="0.9" />
<line x1="248.80" y1="434.30" x2="248.80" y2="437.20" stroke="#333" stroke-width="0.9" />
<line x1="258.05" y1="434.30" x2="258.05" y2="437.20" stroke="#333" stroke-width="0.9" />
<line x1="267.31" y1="434.30" x2="267.31" y2="437.20" stroke="#333" stroke-width="0.9" />
<line x1="276.56" y1="434.30" x2="276.56" y2="437.20" stroke="#333" stroke-width="0.9" />
<line x1="295.08" y1="434.30" x2="295.08" y2="437.20" stroke="#333" stroke-width="0.9" />
<line x1="304.33" y1="434.30" x2="304.33" y2="437.20" stroke="#333" stroke-width="0.9" />
<line x1="313.59" y1="434.30" x2="313.59" y2="437.20" stroke="#333" stroke-width="0.9" />
<line x1="322.84" y1="434.30" x2="322.84" y2="437.20" stroke="#333" stroke-width="0.9" />
<line x1="341.36" y1="434.30" x2="341.36" y2="437.20" stroke="#333" stroke-width="0.9" />
<line x1="350.61" y1="434.30" x2="350.61" y2="437.20" stroke="#333" stroke-width="0.9" />
<line x1="100.70" y1="434.30" x2="100.70" y2="438.00" stroke="#000" stroke-width="1.6" />
<line x1="146.98" y1="434.30" x2="146.98" y2="438.00" stroke="#000" stroke-width="1.6" />
<line x1="193.26" y1="434.30" x2="193.26" y2="438.00" stroke="#000" stroke-width="1.6" />
<line x1="239.54" y1="434.30" x2="239.54" y2="438.00" stroke="#000" stroke-width="1.6" />
<line x1="285.82" y1="434.30" x2="285.82" y2="438.00" stroke="#000" stroke-width="1.6" />
<line x1="332.10" y1="434.30" x2="332.10" y2="438.00" stroke="#000" stroke-width="1.6" />
<line x1="78.05" y1="434.30" x2="73.85" y2="434.30" stroke="#000" stroke-width="1.6" />
<line x1="78.05" y1="426.89" x2="75.15" y2="426.89" stroke="#333" stroke-width="0.9" />
<line x1="78.05" y1="419.47" x2="75.15" y2="419.47" stroke="#333" stroke-width="0.9" />
<line x1="78.05" y1="412.06" x2="75.15" y2="412.06" stroke="#333" stroke-width="0.9" />
<line x1="78.05" y1="404.64" x2="75.15" y2="404.64" stroke="#333" stroke-width="0.9" />
<line x1="78.05" y1="397.23" x2="73.85" y2="397.23" stroke="#000" stroke-width="1.6" />
<line x1="78.05" y1="389.81" x2="75.15" y2="389.81" stroke="#333" stroke-width="0.9" />
<line x1="78.05" y1="382.40" x2="75.15" y2="382.40" stroke="#333" stroke-width="0.9" />
<line x1="78.05" y1="374.98" x2="75.15" y2="374.98" stroke="#333" stroke-width="0.9" />
<line x1="78.05" y1="367.57" x2="75.15" y2="367.57" stroke="#333" stroke-width="0.9" />
<line x1="78.05" y1="360.15" x2="73.85" y2="360.15" stroke="#000" stroke-width="1.6" />
<line x1="78.05" y1="352.74" x2="75.15" y2="352.74" stroke="#333" stroke-width="0.9" />
<line x1="78.05" y1="345.32" x2="75.15" y2="345.32" stroke="#333" stroke-width="0.9" />
<line x1="78.05" y1="337.91" x2="75.15" y2="337.91" stroke="#333" stroke-width="0.9" />
<line x1="78.05" y1="330.49" x2="75.15" y2="330.49" stroke="#333" stroke-width="0.9" />
<line x1="78.05" y1="323.08" x2="73.85" y2="323.08" stroke="#000" stroke-width="1.6" />
<line x1="78.05" y1="315.66" x2="75.15" y2="315.66" stroke="#333" stroke-width="0.9" />
<line x1="78.05" y1="308.25" x2="75.15" y2="308.25" stroke="#333" stroke-width="0.9" />
<line x1="78.05" y1="300.83" x2="75.15" y2="300.83" stroke="#333" stroke-width="0.9" />
<line x1="78.05" y1="293.42" x2="75.15" y2="293.42" stroke="#333" stroke-width="0.9" />
<line x1="78.05" y1="286.00" x2="73.85" y2="286.00" stroke="#000" stroke-width="1.6" />
<line x1="78.05" y1="278.59" x2="75.15" y2="278.59" stroke="#333" stroke-width="0.9" />
<line x1="78.05" y1="271.17" x2="75.15" y2="271.17" stroke="#333" stroke-width="0.9" />
<line x1="78.05" y1="263.76" x2="75.15" y2="263.76" stroke="#333" stroke-width="0.9" />
<rect x="78.05" y="261.20" width="276.65" height="173.10" fill="none" stroke="#000" stroke-width="2.1"/>
<clipPath id="cd"><rect x="373.6" y="261.2" width="277.29999999999995" height="173.10000000000002"/></clipPath>
<g clip-path="url(#cd)" fill="none" stroke-width="2.1" stroke-linejoin="miter">
<path d="M373.60,348.00 L384.69,348.00 L384.69,320.50 L395.78,320.50 L395.78,273.00 L406.88,273.00 L406.88,296.75 L417.97,296.75 L417.97,300.50 L429.06,300.50 L429.06,304.50 L440.15,304.50 L440.15,315.75 L451.24,315.75 L451.24,375.50 L462.34,375.50 L462.34,379.25 L473.43,379.25 L473.43,394.50 L484.52,394.50 L484.52,418.75 L495.61,418.75 L495.61,415.00 L506.70,415.00 L506.70,415.00 L517.80,415.00 L517.80,434.30 L528.89,434.30 L528.89,422.50 L539.98,422.50 L539.98,430.00 L551.07,430.00 L551.07,434.30 L562.16,434.30 L562.16,430.00 L573.26,430.00 L573.26,430.00 L584.35,430.00 L584.35,434.30 L595.44,434.30 L595.44,434.30 L606.53,434.30 L606.53,434.30 L617.62,434.30 L617.62,431.00 L628.72,431.00 L628.72,434.30 L639.81,434.30 L639.81,434.30 L650.90,434.30" stroke="#000"/>
<path d="M373.60,380.75 L384.69,380.75 L384.69,390.75 L395.78,390.75 L395.78,388.75 L406.88,388.75 L406.88,365.75 L417.97,365.75 L417.97,350.00 L429.06,350.00 L429.06,354.25 L440.15,354.25 L440.15,344.25 L451.24,344.25 L451.24,336.25 L462.34,336.25 L462.34,351.25 L473.43,351.25 L473.43,371.25 L484.52,371.25 L484.52,372.50 L495.61,372.50 L495.61,358.75 L506.70,358.75 L506.70,365.25 L517.80,365.25 L517.80,381.75 L528.89,381.75 L528.89,393.00 L539.98,393.00 L539.98,404.25 L551.07,404.25 L551.07,413.00 L562.16,413.00 L562.16,412.50 L573.26,412.50 L573.26,415.50 L584.35,415.50 L584.35,428.00 L595.44,428.00 L595.44,428.75 L606.53,428.75 L606.53,427.50 L617.62,427.50 L617.62,430.50 L628.72,430.50 L628.72,434.30 L639.81,434.30" stroke="#cc1c24"/>
</g>
<line x1="384.69" y1="434.30" x2="384.69" y2="437.20" stroke="#333" stroke-width="0.9" />
<line x1="395.78" y1="434.30" x2="395.78" y2="437.20" stroke="#333" stroke-width="0.9" />
<line x1="406.88" y1="434.30" x2="406.88" y2="437.20" stroke="#333" stroke-width="0.9" />
<line x1="417.97" y1="434.30" x2="417.97" y2="437.20" stroke="#333" stroke-width="0.9" />
<line x1="440.15" y1="434.30" x2="440.15" y2="437.20" stroke="#333" stroke-width="0.9" />
<line x1="451.24" y1="434.30" x2="451.24" y2="437.20" stroke="#333" stroke-width="0.9" />
<line x1="462.34" y1="434.30" x2="462.34" y2="437.20" stroke="#333" stroke-width="0.9" />
<line x1="473.43" y1="434.30" x2="473.43" y2="437.20" stroke="#333" stroke-width="0.9" />
<line x1="495.61" y1="434.30" x2="495.61" y2="437.20" stroke="#333" stroke-width="0.9" />
<line x1="506.70" y1="434.30" x2="506.70" y2="437.20" stroke="#333" stroke-width="0.9" />
<line x1="517.80" y1="434.30" x2="517.80" y2="437.20" stroke="#333" stroke-width="0.9" />
<line x1="528.89" y1="434.30" x2="528.89" y2="437.20" stroke="#333" stroke-width="0.9" />
<line x1="551.07" y1="434.30" x2="551.07" y2="437.20" stroke="#333" stroke-width="0.9" />
<line x1="562.16" y1="434.30" x2="562.16" y2="437.20" stroke="#333" stroke-width="0.9" />
<line x1="573.26" y1="434.30" x2="573.26" y2="437.20" stroke="#333" stroke-width="0.9" />
<line x1="584.35" y1="434.30" x2="584.35" y2="437.20" stroke="#333" stroke-width="0.9" />
<line x1="606.53" y1="434.30" x2="606.53" y2="437.20" stroke="#333" stroke-width="0.9" />
<line x1="617.62" y1="434.30" x2="617.62" y2="437.20" stroke="#333" stroke-width="0.9" />
<line x1="628.72" y1="434.30" x2="628.72" y2="437.20" stroke="#333" stroke-width="0.9" />
<line x1="639.81" y1="434.30" x2="639.81" y2="437.20" stroke="#333" stroke-width="0.9" />
<line x1="373.60" y1="434.30" x2="373.60" y2="438.00" stroke="#000" stroke-width="1.6" />
<line x1="429.06" y1="434.30" x2="429.06" y2="438.00" stroke="#000" stroke-width="1.6" />
<line x1="484.52" y1="434.30" x2="484.52" y2="438.00" stroke="#000" stroke-width="1.6" />
<line x1="539.98" y1="434.30" x2="539.98" y2="438.00" stroke="#000" stroke-width="1.6" />
<line x1="595.44" y1="434.30" x2="595.44" y2="438.00" stroke="#000" stroke-width="1.6" />
<line x1="650.90" y1="434.30" x2="650.90" y2="438.00" stroke="#000" stroke-width="1.6" />
<line x1="650.90" y1="434.30" x2="655.10" y2="434.30" stroke="#000" stroke-width="1.6" />
<line x1="650.90" y1="426.89" x2="653.80" y2="426.89" stroke="#333" stroke-width="0.9" />
<line x1="650.90" y1="419.47" x2="653.80" y2="419.47" stroke="#333" stroke-width="0.9" />
<line x1="650.90" y1="412.06" x2="653.80" y2="412.06" stroke="#333" stroke-width="0.9" />
<line x1="650.90" y1="404.64" x2="653.80" y2="404.64" stroke="#333" stroke-width="0.9" />
<line x1="650.90" y1="397.23" x2="655.10" y2="397.23" stroke="#000" stroke-width="1.6" />
<line x1="650.90" y1="389.81" x2="653.80" y2="389.81" stroke="#333" stroke-width="0.9" />
<line x1="650.90" y1="382.40" x2="653.80" y2="382.40" stroke="#333" stroke-width="0.9" />
<line x1="650.90" y1="374.98" x2="653.80" y2="374.98" stroke="#333" stroke-width="0.9" />
<line x1="650.90" y1="367.57" x2="653.80" y2="367.57" stroke="#333" stroke-width="0.9" />
<line x1="650.90" y1="360.15" x2="655.10" y2="360.15" stroke="#000" stroke-width="1.6" />
<line x1="650.90" y1="352.74" x2="653.80" y2="352.74" stroke="#333" stroke-width="0.9" />
<line x1="650.90" y1="345.32" x2="653.80" y2="345.32" stroke="#333" stroke-width="0.9" />
<line x1="650.90" y1="337.91" x2="653.80" y2="337.91" stroke="#333" stroke-width="0.9" />
<line x1="650.90" y1="330.49" x2="653.80" y2="330.49" stroke="#333" stroke-width="0.9" />
<line x1="650.90" y1="323.08" x2="655.10" y2="323.08" stroke="#000" stroke-width="1.6" />
<line x1="650.90" y1="315.66" x2="653.80" y2="315.66" stroke="#333" stroke-width="0.9" />
<line x1="650.90" y1="308.25" x2="653.80" y2="308.25" stroke="#333" stroke-width="0.9" />
<line x1="650.90" y1="300.83" x2="653.80" y2="300.83" stroke="#333" stroke-width="0.9" />
<line x1="650.90" y1="293.42" x2="653.80" y2="293.42" stroke="#333" stroke-width="0.9" />
<line x1="650.90" y1="286.00" x2="655.10" y2="286.00" stroke="#000" stroke-width="1.6" />
<line x1="650.90" y1="278.59" x2="653.80" y2="278.59" stroke="#333" stroke-width="0.9" />
<line x1="650.90" y1="271.17" x2="653.80" y2="271.17" stroke="#333" stroke-width="0.9" />
<line x1="650.90" y1="263.76" x2="653.80" y2="263.76" stroke="#333" stroke-width="0.9" />
<rect x="373.60" y="261.20" width="277.30" height="173.10" fill="none" stroke="#000" stroke-width="2.1"/>
<text x="90.50" y="452.10" font-size="13.8" textLength="20.34" lengthAdjust="spacingAndGlyphs" >0.4</text>
<text x="136.91" y="452.10" font-size="13.8" textLength="20.34" lengthAdjust="spacingAndGlyphs" >0.6</text>
<text x="183.19" y="452.10" font-size="13.8" textLength="20.34" lengthAdjust="spacingAndGlyphs" >0.8</text>
<text x="229.37" y="452.10" font-size="13.8" textLength="20.34" lengthAdjust="spacingAndGlyphs" >1.0</text>
<text x="275.79" y="452.10" font-size="13.8" textLength="20.34" lengthAdjust="spacingAndGlyphs" >1.2</text>
<text x="321.93" y="452.10" font-size="13.8" textLength="20.34" lengthAdjust="spacingAndGlyphs" >1.4</text>
<text x="365.82" y="452.10" font-size="13.8" textLength="28.47" lengthAdjust="spacingAndGlyphs" >0.03</text>
<text x="414.75" y="452.10" font-size="13.8" textLength="28.47" lengthAdjust="spacingAndGlyphs" >0.04</text>
<text x="470.34" y="452.10" font-size="13.8" textLength="28.47" lengthAdjust="spacingAndGlyphs" >0.05</text>
<text x="525.80" y="452.10" font-size="13.8" textLength="28.47" lengthAdjust="spacingAndGlyphs" >0.06</text>
<text x="581.26" y="452.10" font-size="13.8" textLength="28.47" lengthAdjust="spacingAndGlyphs" >0.07</text>
<text x="636.72" y="452.10" font-size="13.8" textLength="28.47" lengthAdjust="spacingAndGlyphs" >0.08</text>
<text x="41.58" y="440.10" font-size="13.8" textLength="28.47" lengthAdjust="spacingAndGlyphs" >0.00</text>
<text x="41.58" y="403.03" font-size="13.8" textLength="28.47" lengthAdjust="spacingAndGlyphs" >0.03</text>
<text x="41.58" y="365.95" font-size="13.8" textLength="28.47" lengthAdjust="spacingAndGlyphs" >0.06</text>
<text x="41.58" y="328.88" font-size="13.8" textLength="28.47" lengthAdjust="spacingAndGlyphs" >0.09</text>
<text x="41.58" y="291.80" font-size="13.8" textLength="28.47" lengthAdjust="spacingAndGlyphs" >0.12</text>
<g transform="translate(19.2,384.0) rotate(-90)">
<text x="-1.39" y="0.00" font-size="14.5" textLength="75.52" lengthAdjust="spacingAndGlyphs" >Probability</text>
</g>
<text x="98.45" y="282.00" font-size="12.5" fill="#231f20" textLength="98.23" lengthAdjust="spacingAndGlyphs" >Stable: 0.44±0.22</text>
<text x="165.70" y="335.10" font-size="12.5" fill="#cc1c24" textLength="111.66" lengthAdjust="spacingAndGlyphs" >Unstable: 0.70±0.38</text>
<text x="412.25" y="279.30" font-size="12.5" fill="#231f20" textLength="111.91" lengthAdjust="spacingAndGlyphs" >Stable: 0.038±0.008</text>
<text x="489.60" y="351.60" font-size="12.5" fill="#cc1c24" textLength="125.60" lengthAdjust="spacingAndGlyphs" >Unstable: 0.046±0.012</text>
<text x="187.21" y="472.40" font-size="17.5" textLength="10.87" lengthAdjust="spacingAndGlyphs" >B</text>
<text x="199.13" y="475.10" font-size="13" font-style="italic" textLength="9.64" lengthAdjust="spacingAndGlyphs" >w</text>
<text x="213.64" y="472.40" font-size="17.5" textLength="30.43" lengthAdjust="spacingAndGlyphs" >[nT]</text>
<text x="488.61" y="472.40" font-size="17.5" textLength="10.87" lengthAdjust="spacingAndGlyphs" >B</text>
<text x="500.57" y="475.50" font-size="13" font-style="italic" textLength="9.14" lengthAdjust="spacingAndGlyphs" >w</text>
<text x="510.30" y="472.40" font-size="17.5" textLength="3.80" lengthAdjust="spacingAndGlyphs" >/</text>
<text x="514.34" y="472.40" font-size="17.5" textLength="11.37" lengthAdjust="spacingAndGlyphs" >B</text>
<text x="526.63" y="475.50" font-size="13" font-style="italic" textLength="6.79" lengthAdjust="spacingAndGlyphs" >L</text>
<text x="-1.45" y="12.65" font-size="18.5" font-weight="bold" >a</text>
<text x="663.65" y="12.65" font-size="18" font-weight="bold" >b</text>
<text x="-1.55" y="265.50" font-size="18.5" font-weight="bold" >c</text>
<text x="663.65" y="265.45" font-size="18" font-weight="bold" >d</text>
</svg>
</body></html>
